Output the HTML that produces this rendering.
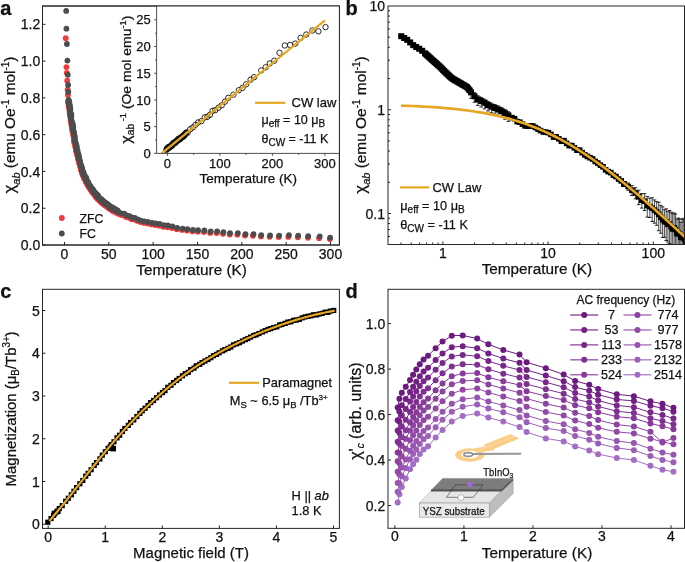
<!DOCTYPE html>
<html><head><meta charset="utf-8"><style>
html,body{margin:0;padding:0;background:#fff;}
svg{display:block;font-family:"Liberation Sans", sans-serif;will-change:transform;}
text{fill:#111;stroke:#111;stroke-width:0.25px;}
</style></head><body>
<svg width="685" height="562" viewBox="0 0 685 562">
<rect width="685" height="562" fill="#fff"/>
<g fill="#F03A3A">
<circle cx="65.7" cy="38.2" r="2.9"/>
<circle cx="66.4" cy="67.1" r="2.9"/>
<circle cx="66.8" cy="73.0" r="2.9"/>
<circle cx="67.2" cy="80.7" r="2.9"/>
<circle cx="67.6" cy="89.7" r="2.9"/>
<circle cx="67.9" cy="95.0" r="2.9"/>
<circle cx="68.16" cy="102.00" r="2.9"/>
<circle cx="68.19" cy="102.31" r="2.9"/>
<circle cx="68.53" cy="103.36" r="2.9"/>
<circle cx="68.86" cy="104.68" r="2.9"/>
<circle cx="68.65" cy="104.53" r="2.9"/>
<circle cx="68.73" cy="106.34" r="2.9"/>
<circle cx="69.12" cy="107.39" r="2.9"/>
<circle cx="69.39" cy="107.81" r="2.9"/>
<circle cx="69.34" cy="109.12" r="2.9"/>
<circle cx="69.68" cy="111.02" r="2.9"/>
<circle cx="69.70" cy="110.98" r="2.9"/>
<circle cx="69.75" cy="112.45" r="2.9"/>
<circle cx="70.01" cy="113.97" r="2.9"/>
<circle cx="69.95" cy="114.81" r="2.9"/>
<circle cx="70.62" cy="116.01" r="2.9"/>
<circle cx="70.31" cy="117.11" r="2.9"/>
<circle cx="70.77" cy="118.43" r="2.9"/>
<circle cx="70.72" cy="120.24" r="2.9"/>
<circle cx="70.74" cy="120.43" r="2.9"/>
<circle cx="71.33" cy="122.63" r="2.9"/>
<circle cx="71.32" cy="123.67" r="2.9"/>
<circle cx="71.76" cy="124.68" r="2.9"/>
<circle cx="71.64" cy="126.30" r="2.9"/>
<circle cx="72.15" cy="126.38" r="2.9"/>
<circle cx="72.42" cy="128.69" r="2.9"/>
<circle cx="72.47" cy="129.13" r="2.9"/>
<circle cx="72.39" cy="130.57" r="2.9"/>
<circle cx="72.59" cy="131.76" r="2.9"/>
<circle cx="73.23" cy="133.42" r="2.9"/>
<circle cx="73.39" cy="134.87" r="2.9"/>
<circle cx="73.46" cy="136.05" r="2.9"/>
<circle cx="73.90" cy="137.93" r="2.9"/>
<circle cx="73.97" cy="137.96" r="2.9"/>
<circle cx="74.06" cy="139.85" r="2.9"/>
<circle cx="74.26" cy="141.06" r="2.9"/>
<circle cx="74.36" cy="142.48" r="2.9"/>
<circle cx="74.61" cy="143.06" r="2.9"/>
<circle cx="75.18" cy="144.95" r="2.9"/>
<circle cx="75.22" cy="145.66" r="2.9"/>
<circle cx="75.52" cy="147.62" r="2.9"/>
<circle cx="75.86" cy="147.66" r="2.9"/>
<circle cx="76.10" cy="149.17" r="2.9"/>
<circle cx="75.95" cy="150.18" r="2.9"/>
<circle cx="76.38" cy="151.65" r="2.9"/>
<circle cx="76.61" cy="152.13" r="2.9"/>
<circle cx="77.00" cy="152.81" r="2.9"/>
<circle cx="77.22" cy="155.09" r="2.9"/>
<circle cx="77.28" cy="154.91" r="2.9"/>
<circle cx="77.87" cy="156.32" r="2.9"/>
<circle cx="77.85" cy="157.01" r="2.9"/>
<circle cx="78.41" cy="158.71" r="2.9"/>
<circle cx="78.20" cy="159.14" r="2.9"/>
<circle cx="78.60" cy="160.33" r="2.9"/>
<circle cx="78.97" cy="161.67" r="2.9"/>
<circle cx="79.28" cy="162.24" r="2.9"/>
<circle cx="79.47" cy="163.91" r="2.9"/>
<circle cx="79.62" cy="163.96" r="2.9"/>
<circle cx="79.98" cy="165.41" r="2.9"/>
<circle cx="80.59" cy="167.26" r="2.9"/>
<circle cx="80.55" cy="167.14" r="2.9"/>
<circle cx="80.97" cy="168.68" r="2.9"/>
<circle cx="81.25" cy="169.77" r="2.9"/>
<circle cx="81.25" cy="169.66" r="2.9"/>
<circle cx="81.63" cy="171.18" r="2.9"/>
<circle cx="81.80" cy="171.99" r="2.9"/>
<circle cx="81.99" cy="172.67" r="2.9"/>
<circle cx="82.80" cy="173.71" r="2.9"/>
<circle cx="82.44" cy="173.72" r="2.9"/>
<circle cx="82.90" cy="175.36" r="2.9"/>
<circle cx="83.30" cy="175.73" r="2.9"/>
<circle cx="83.71" cy="176.47" r="2.9"/>
<circle cx="84.05" cy="177.61" r="2.9"/>
<circle cx="84.10" cy="178.37" r="2.9"/>
<circle cx="84.49" cy="178.12" r="2.9"/>
<circle cx="85.06" cy="179.40" r="2.9"/>
<circle cx="85.45" cy="179.58" r="2.9"/>
<circle cx="85.39" cy="180.19" r="2.9"/>
<circle cx="85.87" cy="180.91" r="2.9"/>
<circle cx="85.90" cy="181.84" r="2.9"/>
<circle cx="86.18" cy="182.35" r="2.9"/>
<circle cx="86.67" cy="182.81" r="2.9"/>
<circle cx="87.17" cy="183.67" r="2.9"/>
<circle cx="87.37" cy="183.96" r="2.9"/>
<circle cx="87.59" cy="184.28" r="2.9"/>
<circle cx="88.09" cy="185.52" r="2.9"/>
<circle cx="88.25" cy="185.86" r="2.9"/>
<circle cx="88.35" cy="186.02" r="2.9"/>
<circle cx="88.90" cy="186.66" r="2.9"/>
<circle cx="89.11" cy="187.17" r="2.9"/>
<circle cx="89.41" cy="187.33" r="2.9"/>
<circle cx="89.65" cy="188.07" r="2.9"/>
<circle cx="90.09" cy="188.76" r="2.9"/>
<circle cx="90.37" cy="189.01" r="2.9"/>
<circle cx="90.98" cy="189.64" r="2.9"/>
<circle cx="91.21" cy="190.36" r="2.9"/>
<circle cx="91.54" cy="190.70" r="2.9"/>
<circle cx="91.67" cy="190.97" r="2.9"/>
<circle cx="92.01" cy="191.74" r="2.9"/>
<circle cx="92.58" cy="191.96" r="2.9"/>
<circle cx="92.50" cy="191.90" r="2.9"/>
<circle cx="92.90" cy="192.31" r="2.9"/>
<circle cx="93.26" cy="192.94" r="2.9"/>
<circle cx="93.76" cy="193.75" r="2.9"/>
<circle cx="93.93" cy="194.12" r="2.9"/>
<circle cx="94.38" cy="194.15" r="2.9"/>
<circle cx="94.97" cy="195.18" r="2.9"/>
<circle cx="95.19" cy="195.61" r="2.9"/>
<circle cx="95.22" cy="195.25" r="2.9"/>
<circle cx="95.74" cy="196.46" r="2.9"/>
<circle cx="96.25" cy="196.30" r="2.9"/>
<circle cx="96.37" cy="197.43" r="2.9"/>
<circle cx="96.77" cy="197.28" r="2.9"/>
<circle cx="97.14" cy="197.27" r="2.9"/>
<circle cx="97.62" cy="197.79" r="2.9"/>
<circle cx="97.74" cy="198.45" r="2.9"/>
<circle cx="97.73" cy="198.89" r="2.9"/>
<circle cx="98.19" cy="199.20" r="2.9"/>
<circle cx="98.85" cy="199.68" r="2.9"/>
<circle cx="99.31" cy="200.29" r="2.9"/>
<circle cx="99.41" cy="200.11" r="2.9"/>
<circle cx="99.62" cy="200.54" r="2.9"/>
<circle cx="100.05" cy="201.02" r="2.9"/>
<circle cx="100.40" cy="200.97" r="2.9"/>
<circle cx="101.00" cy="201.28" r="2.9"/>
<circle cx="100.90" cy="201.90" r="2.9"/>
<circle cx="101.44" cy="201.78" r="2.9"/>
<circle cx="102.12" cy="202.49" r="2.9"/>
<circle cx="102.46" cy="203.14" r="2.9"/>
<circle cx="102.75" cy="202.84" r="2.9"/>
<circle cx="102.60" cy="203.25" r="2.9"/>
<circle cx="103.40" cy="203.84" r="2.9"/>
<circle cx="103.59" cy="204.07" r="2.9"/>
<circle cx="104.41" cy="204.12" r="2.9"/>
<circle cx="104.24" cy="204.38" r="2.9"/>
<circle cx="104.68" cy="205.10" r="2.9"/>
<circle cx="105.13" cy="205.37" r="2.9"/>
<circle cx="105.62" cy="205.37" r="2.9"/>
<circle cx="105.89" cy="205.61" r="2.9"/>
<circle cx="106.25" cy="205.55" r="2.9"/>
<circle cx="106.25" cy="205.83" r="2.9"/>
<circle cx="106.97" cy="206.30" r="2.9"/>
<circle cx="107.19" cy="206.59" r="2.9"/>
<circle cx="107.57" cy="207.00" r="2.9"/>
<circle cx="108.11" cy="207.13" r="2.9"/>
<circle cx="108.20" cy="206.97" r="2.9"/>
<circle cx="108.57" cy="207.32" r="2.9"/>
<circle cx="108.90" cy="208.29" r="2.9"/>
<circle cx="109.68" cy="208.56" r="2.9"/>
<circle cx="109.69" cy="208.37" r="2.9"/>
<circle cx="110.23" cy="208.53" r="2.9"/>
<circle cx="110.69" cy="209.26" r="2.9"/>
<circle cx="110.67" cy="209.11" r="2.9"/>
<circle cx="111.41" cy="209.32" r="2.9"/>
<circle cx="111.76" cy="209.60" r="2.9"/>
<circle cx="111.75" cy="209.37" r="2.9"/>
<circle cx="112.38" cy="210.42" r="2.9"/>
<circle cx="112.48" cy="210.57" r="2.9"/>
<circle cx="113.19" cy="210.14" r="2.9"/>
<circle cx="113.40" cy="210.82" r="2.9"/>
<circle cx="113.79" cy="210.85" r="2.9"/>
<circle cx="113.95" cy="211.46" r="2.9"/>
<circle cx="114.49" cy="211.14" r="2.9"/>
<circle cx="115.18" cy="211.96" r="2.9"/>
<circle cx="115.52" cy="211.51" r="2.9"/>
<circle cx="116.05" cy="212.01" r="2.9"/>
<circle cx="116.32" cy="212.42" r="2.9"/>
<circle cx="116.38" cy="212.53" r="2.9"/>
<circle cx="116.91" cy="212.51" r="2.9"/>
<circle cx="117.19" cy="212.44" r="2.9"/>
<circle cx="118.39" cy="213.74" r="2.9"/>
<circle cx="120.70" cy="214.78" r="2.9"/>
<circle cx="123.49" cy="215.43" r="2.9"/>
<circle cx="126.06" cy="216.91" r="2.9"/>
<circle cx="128.88" cy="217.74" r="2.9"/>
<circle cx="131.60" cy="219.15" r="2.9"/>
<circle cx="134.37" cy="219.62" r="2.9"/>
<circle cx="137.45" cy="220.95" r="2.9"/>
<circle cx="140.61" cy="222.06" r="2.9"/>
<circle cx="143.99" cy="222.89" r="2.9"/>
<circle cx="147.52" cy="223.55" r="2.9"/>
<circle cx="151.45" cy="224.38" r="2.9"/>
<circle cx="155.15" cy="225.09" r="2.9"/>
<circle cx="159.06" cy="225.65" r="2.9"/>
<circle cx="163.25" cy="226.75" r="2.9"/>
<circle cx="167.49" cy="227.26" r="2.9"/>
<circle cx="172.05" cy="228.08" r="2.9"/>
<circle cx="176.79" cy="229.21" r="2.9"/>
<circle cx="182.00" cy="229.97" r="2.9"/>
<circle cx="186.93" cy="230.61" r="2.9"/>
<circle cx="192.40" cy="231.32" r="2.9"/>
<circle cx="197.79" cy="231.72" r="2.9"/>
<circle cx="203.89" cy="232.10" r="2.9"/>
<circle cx="210.10" cy="232.93" r="2.9"/>
<circle cx="216.53" cy="233.07" r="2.9"/>
<circle cx="222.97" cy="233.80" r="2.9"/>
<circle cx="229.77" cy="234.49" r="2.9"/>
<circle cx="237.31" cy="234.66" r="2.9"/>
<circle cx="244.93" cy="235.56" r="2.9"/>
<circle cx="252.93" cy="235.76" r="2.9"/>
<circle cx="260.90" cy="236.46" r="2.9"/>
<circle cx="269.62" cy="236.82" r="2.9"/>
<circle cx="278.69" cy="237.03" r="2.9"/>
<circle cx="288.29" cy="236.90" r="2.9"/>
<circle cx="297.81" cy="237.37" r="2.9"/>
<circle cx="307.93" cy="237.87" r="2.9"/>
<circle cx="319.06" cy="238.14" r="2.9"/>
<circle cx="329.82" cy="239.05" r="2.9"/>
</g>
<g fill="#4D4D4D">
<circle cx="66.2" cy="10.9" r="2.9"/>
<circle cx="66.4" cy="28.7" r="2.9"/>
<circle cx="66.9" cy="44.0" r="2.9"/>
<circle cx="67.4" cy="60.6" r="2.9"/>
<circle cx="67.8" cy="74.8" r="2.9"/>
<circle cx="68.1" cy="85.0" r="2.9"/>
<circle cx="68.3" cy="91.9" r="2.9"/>
<circle cx="68.6" cy="99.9" r="2.9"/>
<circle cx="68.52" cy="100.61" r="2.9"/>
<circle cx="68.55" cy="100.95" r="2.9"/>
<circle cx="69.02" cy="101.83" r="2.9"/>
<circle cx="69.50" cy="103.09" r="2.9"/>
<circle cx="69.05" cy="102.76" r="2.9"/>
<circle cx="69.02" cy="104.87" r="2.9"/>
<circle cx="69.59" cy="105.60" r="2.9"/>
<circle cx="70.08" cy="106.08" r="2.9"/>
<circle cx="69.79" cy="107.41" r="2.9"/>
<circle cx="70.24" cy="109.46" r="2.9"/>
<circle cx="70.25" cy="109.25" r="2.9"/>
<circle cx="70.15" cy="110.72" r="2.9"/>
<circle cx="70.42" cy="112.17" r="2.9"/>
<circle cx="70.28" cy="113.47" r="2.9"/>
<circle cx="71.35" cy="114.23" r="2.9"/>
<circle cx="70.57" cy="115.34" r="2.9"/>
<circle cx="71.37" cy="116.98" r="2.9"/>
<circle cx="70.98" cy="118.69" r="2.9"/>
<circle cx="70.99" cy="118.84" r="2.9"/>
<circle cx="71.90" cy="121.31" r="2.9"/>
<circle cx="71.70" cy="122.24" r="2.9"/>
<circle cx="72.45" cy="123.31" r="2.9"/>
<circle cx="71.89" cy="124.68" r="2.9"/>
<circle cx="72.89" cy="124.73" r="2.9"/>
<circle cx="73.07" cy="127.12" r="2.9"/>
<circle cx="73.11" cy="127.52" r="2.9"/>
<circle cx="72.65" cy="128.74" r="2.9"/>
<circle cx="72.90" cy="130.02" r="2.9"/>
<circle cx="73.96" cy="131.89" r="2.9"/>
<circle cx="74.05" cy="133.30" r="2.9"/>
<circle cx="74.03" cy="134.62" r="2.9"/>
<circle cx="74.61" cy="136.56" r="2.9"/>
<circle cx="74.63" cy="136.13" r="2.9"/>
<circle cx="74.49" cy="137.99" r="2.9"/>
<circle cx="74.78" cy="139.62" r="2.9"/>
<circle cx="74.63" cy="140.71" r="2.9"/>
<circle cx="75.05" cy="141.32" r="2.9"/>
<circle cx="75.82" cy="143.27" r="2.9"/>
<circle cx="75.79" cy="144.06" r="2.9"/>
<circle cx="76.06" cy="146.27" r="2.9"/>
<circle cx="76.58" cy="145.85" r="2.9"/>
<circle cx="76.77" cy="147.49" r="2.9"/>
<circle cx="76.25" cy="148.51" r="2.9"/>
<circle cx="76.89" cy="150.30" r="2.9"/>
<circle cx="77.05" cy="150.25" r="2.9"/>
<circle cx="77.68" cy="150.99" r="2.9"/>
<circle cx="77.71" cy="153.69" r="2.9"/>
<circle cx="77.79" cy="153.28" r="2.9"/>
<circle cx="78.52" cy="154.45" r="2.9"/>
<circle cx="78.39" cy="155.36" r="2.9"/>
<circle cx="79.16" cy="157.28" r="2.9"/>
<circle cx="78.47" cy="157.37" r="2.9"/>
<circle cx="79.07" cy="158.84" r="2.9"/>
<circle cx="79.38" cy="159.99" r="2.9"/>
<circle cx="79.99" cy="160.89" r="2.9"/>
<circle cx="79.92" cy="162.53" r="2.9"/>
<circle cx="80.04" cy="162.12" r="2.9"/>
<circle cx="80.49" cy="163.90" r="2.9"/>
<circle cx="81.29" cy="165.92" r="2.9"/>
<circle cx="81.18" cy="165.69" r="2.9"/>
<circle cx="81.57" cy="167.19" r="2.9"/>
<circle cx="81.88" cy="168.43" r="2.9"/>
<circle cx="81.68" cy="167.83" r="2.9"/>
<circle cx="82.00" cy="169.42" r="2.9"/>
<circle cx="82.23" cy="170.56" r="2.9"/>
<circle cx="82.27" cy="171.04" r="2.9"/>
<circle cx="83.46" cy="171.98" r="2.9"/>
<circle cx="82.72" cy="171.97" r="2.9"/>
<circle cx="83.19" cy="173.93" r="2.9"/>
<circle cx="83.64" cy="173.96" r="2.9"/>
<circle cx="84.37" cy="175.04" r="2.9"/>
<circle cx="84.59" cy="176.25" r="2.9"/>
<circle cx="84.38" cy="177.03" r="2.9"/>
<circle cx="85.02" cy="176.41" r="2.9"/>
<circle cx="85.73" cy="177.89" r="2.9"/>
<circle cx="86.19" cy="177.77" r="2.9"/>
<circle cx="85.93" cy="178.57" r="2.9"/>
<circle cx="86.45" cy="179.17" r="2.9"/>
<circle cx="86.17" cy="180.27" r="2.9"/>
<circle cx="86.61" cy="180.97" r="2.9"/>
<circle cx="87.15" cy="181.17" r="2.9"/>
<circle cx="87.74" cy="182.09" r="2.9"/>
<circle cx="88.10" cy="182.52" r="2.9"/>
<circle cx="88.09" cy="182.52" r="2.9"/>
<circle cx="88.64" cy="184.06" r="2.9"/>
<circle cx="88.87" cy="184.53" r="2.9"/>
<circle cx="88.71" cy="184.37" r="2.9"/>
<circle cx="89.36" cy="184.96" r="2.9"/>
<circle cx="89.54" cy="185.56" r="2.9"/>
<circle cx="89.93" cy="185.60" r="2.9"/>
<circle cx="89.97" cy="186.36" r="2.9"/>
<circle cx="90.41" cy="187.05" r="2.9"/>
<circle cx="90.96" cy="187.46" r="2.9"/>
<circle cx="91.73" cy="188.08" r="2.9"/>
<circle cx="91.73" cy="188.84" r="2.9"/>
<circle cx="92.15" cy="189.16" r="2.9"/>
<circle cx="92.22" cy="189.43" r="2.9"/>
<circle cx="92.43" cy="190.30" r="2.9"/>
<circle cx="93.13" cy="190.26" r="2.9"/>
<circle cx="92.87" cy="190.06" r="2.9"/>
<circle cx="93.32" cy="190.44" r="2.9"/>
<circle cx="93.59" cy="191.09" r="2.9"/>
<circle cx="94.15" cy="192.07" r="2.9"/>
<circle cx="94.47" cy="192.68" r="2.9"/>
<circle cx="94.95" cy="192.36" r="2.9"/>
<circle cx="95.66" cy="193.71" r="2.9"/>
<circle cx="95.69" cy="194.09" r="2.9"/>
<circle cx="95.73" cy="193.46" r="2.9"/>
<circle cx="96.31" cy="195.13" r="2.9"/>
<circle cx="96.89" cy="194.52" r="2.9"/>
<circle cx="96.68" cy="196.07" r="2.9"/>
<circle cx="97.48" cy="195.82" r="2.9"/>
<circle cx="97.77" cy="195.47" r="2.9"/>
<circle cx="98.27" cy="196.02" r="2.9"/>
<circle cx="98.07" cy="196.80" r="2.9"/>
<circle cx="97.98" cy="197.49" r="2.9"/>
<circle cx="98.52" cy="197.73" r="2.9"/>
<circle cx="99.39" cy="198.23" r="2.9"/>
<circle cx="99.86" cy="198.95" r="2.9"/>
<circle cx="99.85" cy="198.51" r="2.9"/>
<circle cx="100.04" cy="199.08" r="2.9"/>
<circle cx="100.45" cy="199.59" r="2.9"/>
<circle cx="100.69" cy="199.23" r="2.9"/>
<circle cx="101.46" cy="199.47" r="2.9"/>
<circle cx="101.25" cy="200.49" r="2.9"/>
<circle cx="101.87" cy="200.03" r="2.9"/>
<circle cx="102.79" cy="200.93" r="2.9"/>
<circle cx="103.03" cy="201.76" r="2.9"/>
<circle cx="103.36" cy="201.11" r="2.9"/>
<circle cx="102.86" cy="201.67" r="2.9"/>
<circle cx="104.00" cy="202.41" r="2.9"/>
<circle cx="103.93" cy="202.55" r="2.9"/>
<circle cx="105.13" cy="202.39" r="2.9"/>
<circle cx="104.63" cy="202.74" r="2.9"/>
<circle cx="105.21" cy="203.77" r="2.9"/>
<circle cx="105.68" cy="203.98" r="2.9"/>
<circle cx="106.19" cy="203.75" r="2.9"/>
<circle cx="106.29" cy="203.92" r="2.9"/>
<circle cx="106.88" cy="203.77" r="2.9"/>
<circle cx="106.57" cy="204.07" r="2.9"/>
<circle cx="107.55" cy="204.62" r="2.9"/>
<circle cx="107.54" cy="204.89" r="2.9"/>
<circle cx="107.86" cy="205.36" r="2.9"/>
<circle cx="108.76" cy="205.50" r="2.9"/>
<circle cx="108.68" cy="205.11" r="2.9"/>
<circle cx="108.96" cy="205.48" r="2.9"/>
<circle cx="109.17" cy="206.89" r="2.9"/>
<circle cx="110.29" cy="207.15" r="2.9"/>
<circle cx="110.01" cy="206.70" r="2.9"/>
<circle cx="110.94" cy="206.89" r="2.9"/>
<circle cx="111.40" cy="207.92" r="2.9"/>
<circle cx="110.93" cy="207.47" r="2.9"/>
<circle cx="111.95" cy="207.64" r="2.9"/>
<circle cx="112.19" cy="207.92" r="2.9"/>
<circle cx="112.12" cy="207.50" r="2.9"/>
<circle cx="113.00" cy="209.10" r="2.9"/>
<circle cx="112.75" cy="209.17" r="2.9"/>
<circle cx="113.71" cy="208.27" r="2.9"/>
<circle cx="113.68" cy="209.24" r="2.9"/>
<circle cx="114.09" cy="209.13" r="2.9"/>
<circle cx="114.34" cy="210.12" r="2.9"/>
<circle cx="114.98" cy="209.42" r="2.9"/>
<circle cx="115.90" cy="210.62" r="2.9"/>
<circle cx="116.13" cy="209.71" r="2.9"/>
<circle cx="116.75" cy="210.38" r="2.9"/>
<circle cx="116.96" cy="210.94" r="2.9"/>
<circle cx="116.96" cy="211.08" r="2.9"/>
<circle cx="117.57" cy="210.89" r="2.9"/>
<circle cx="117.69" cy="210.61" r="2.9"/>
<circle cx="118.83" cy="212.36" r="2.9"/>
<circle cx="121.06" cy="213.32" r="2.9"/>
<circle cx="124.14" cy="213.66" r="2.9"/>
<circle cx="126.70" cy="215.40" r="2.9"/>
<circle cx="129.62" cy="216.08" r="2.9"/>
<circle cx="132.23" cy="217.74" r="2.9"/>
<circle cx="134.81" cy="217.87" r="2.9"/>
<circle cx="137.88" cy="219.44" r="2.9"/>
<circle cx="140.99" cy="220.66" r="2.9"/>
<circle cx="144.39" cy="221.44" r="2.9"/>
<circle cx="147.93" cy="221.95" r="2.9"/>
<circle cx="152.14" cy="222.78" r="2.9"/>
<circle cx="155.71" cy="223.40" r="2.9"/>
<circle cx="159.55" cy="223.80" r="2.9"/>
<circle cx="163.76" cy="225.12" r="2.9"/>
<circle cx="167.89" cy="225.48" r="2.9"/>
<circle cx="172.47" cy="226.37" r="2.9"/>
<circle cx="177.23" cy="227.79" r="2.9"/>
<circle cx="182.70" cy="228.61" r="2.9"/>
<circle cx="187.39" cy="229.23" r="2.9"/>
<circle cx="192.94" cy="230.00" r="2.9"/>
<circle cx="198.10" cy="230.27" r="2.9"/>
<circle cx="204.43" cy="230.51" r="2.9"/>
<circle cx="210.73" cy="231.52" r="2.9"/>
<circle cx="217.19" cy="231.38" r="2.9"/>
<circle cx="223.41" cy="232.25" r="2.9"/>
<circle cx="230.04" cy="233.07" r="2.9"/>
<circle cx="237.86" cy="233.03" r="2.9"/>
<circle cx="245.50" cy="234.22" r="2.9"/>
<circle cx="253.59" cy="234.25" r="2.9"/>
<circle cx="261.26" cy="235.12" r="2.9"/>
<circle cx="270.07" cy="235.45" r="2.9"/>
<circle cx="279.19" cy="235.53" r="2.9"/>
<circle cx="288.98" cy="235.05" r="2.9"/>
<circle cx="298.20" cy="235.59" r="2.9"/>
<circle cx="308.20" cy="236.18" r="2.9"/>
<circle cx="319.76" cy="236.40" r="2.9"/>
<circle cx="330.12" cy="237.70" r="2.9"/>
</g>
<rect x="42.50" y="6.00" width="296.90" height="239.00" fill="none" stroke="#262626" stroke-width="1"/>
<line x1="64.50" y1="245.00" x2="64.50" y2="242.00" stroke="#262626" stroke-width="1" />
<text x="64.50" y="258.50" font-size="14" text-anchor="middle" >0</text>
<line x1="108.84" y1="245.00" x2="108.84" y2="242.00" stroke="#262626" stroke-width="1" />
<text x="108.84" y="258.50" font-size="14" text-anchor="middle" >50</text>
<line x1="153.17" y1="245.00" x2="153.17" y2="242.00" stroke="#262626" stroke-width="1" />
<text x="153.17" y="258.50" font-size="14" text-anchor="middle" >100</text>
<line x1="197.50" y1="245.00" x2="197.50" y2="242.00" stroke="#262626" stroke-width="1" />
<text x="197.50" y="258.50" font-size="14" text-anchor="middle" >150</text>
<line x1="241.84" y1="245.00" x2="241.84" y2="242.00" stroke="#262626" stroke-width="1" />
<text x="241.84" y="258.50" font-size="14" text-anchor="middle" >200</text>
<line x1="286.18" y1="245.00" x2="286.18" y2="242.00" stroke="#262626" stroke-width="1" />
<text x="286.18" y="258.50" font-size="14" text-anchor="middle" >250</text>
<line x1="330.51" y1="245.00" x2="330.51" y2="242.00" stroke="#262626" stroke-width="1" />
<text x="330.51" y="258.50" font-size="14" text-anchor="middle" >300</text>
<line x1="42.50" y1="245.00" x2="45.50" y2="245.00" stroke="#262626" stroke-width="1" />
<text x="40.30" y="250.10" font-size="14" text-anchor="end" >0.0</text>
<line x1="42.50" y1="208.22" x2="45.50" y2="208.22" stroke="#262626" stroke-width="1" />
<text x="40.30" y="213.32" font-size="14" text-anchor="end" >0.2</text>
<line x1="42.50" y1="171.44" x2="45.50" y2="171.44" stroke="#262626" stroke-width="1" />
<text x="40.30" y="176.54" font-size="14" text-anchor="end" >0.4</text>
<line x1="42.50" y1="134.66" x2="45.50" y2="134.66" stroke="#262626" stroke-width="1" />
<text x="40.30" y="139.76" font-size="14" text-anchor="end" >0.6</text>
<line x1="42.50" y1="97.88" x2="45.50" y2="97.88" stroke="#262626" stroke-width="1" />
<text x="40.30" y="102.98" font-size="14" text-anchor="end" >0.8</text>
<line x1="42.50" y1="61.10" x2="45.50" y2="61.10" stroke="#262626" stroke-width="1" />
<text x="40.30" y="66.20" font-size="14" text-anchor="end" >1.0</text>
<line x1="42.50" y1="24.32" x2="45.50" y2="24.32" stroke="#262626" stroke-width="1" />
<text x="40.30" y="29.42" font-size="14" text-anchor="end" >1.2</text>
<text x="191.60" y="274.60" font-size="15.3" text-anchor="middle" >Temperature (K)</text>
<text transform="translate(15.4,125) rotate(-90)" font-size="15.5" text-anchor="middle" textLength="137" lengthAdjust="spacingAndGlyphs"><tspan font-size="17">&#967;</tspan><tspan font-size="11" font-style="italic" dy="4.2">ab</tspan><tspan dy="-4.2"> (emu Oe</tspan><tspan font-size="10" dy="-6">-1</tspan><tspan dy="6"> mol</tspan><tspan font-size="10" dy="-6">-1</tspan><tspan dy="6">)</tspan></text>
<circle cx="61.8" cy="218" r="2.9" fill="#F03A3A"/>
<circle cx="61.8" cy="233.5" r="2.9" fill="#4D4D4D"/>
<text x="79.60" y="222.50" font-size="12.3" text-anchor="start" >ZFC</text>
<text x="79.60" y="238.10" font-size="12.3" text-anchor="start" >FC</text>
<rect x="156.6" y="6.0" width="182.79999999999998" height="147.4" fill="white"/>
<g fill="none" stroke="#111" stroke-width="0.9">
<circle cx="325.50" cy="27.10" r="2.7"/>
<circle cx="318.40" cy="31.30" r="2.7"/>
<circle cx="312.40" cy="30.50" r="2.7"/>
<circle cx="306.30" cy="34.50" r="2.7"/>
<circle cx="300.60" cy="37.90" r="2.7"/>
<circle cx="295.30" cy="43.60" r="2.7"/>
<circle cx="290.10" cy="45.00" r="2.7"/>
<circle cx="284.80" cy="45.50" r="2.7"/>
<circle cx="279.50" cy="52.80" r="2.7"/>
<circle cx="274.30" cy="60.70" r="2.7"/>
<circle cx="269.80" cy="63.40" r="2.7"/>
<circle cx="265.60" cy="67.30" r="2.7"/>
<circle cx="261.20" cy="70.40" r="2.7"/>
<circle cx="254.10" cy="77.20" r="2.7"/>
<circle cx="250.60" cy="79.68" r="2.7"/>
<circle cx="246.20" cy="84.28" r="2.7"/>
<circle cx="242.50" cy="87.90" r="2.7"/>
<circle cx="238.80" cy="90.21" r="2.7"/>
<circle cx="233.50" cy="94.68" r="2.7"/>
<circle cx="228.30" cy="97.82" r="2.7"/>
<circle cx="225.00" cy="101.60" r="2.7"/>
<circle cx="221.70" cy="105.34" r="2.7"/>
<circle cx="218.50" cy="107.73" r="2.7"/>
<circle cx="215.20" cy="110.14" r="2.7"/>
<circle cx="212.50" cy="110.91" r="2.7"/>
<circle cx="209.90" cy="114.84" r="2.7"/>
<circle cx="207.30" cy="116.87" r="2.7"/>
<circle cx="204.70" cy="117.40" r="2.7"/>
<circle cx="201.40" cy="121.16" r="2.7"/>
<circle cx="198.10" cy="122.44" r="2.7"/>
<circle cx="195.50" cy="124.78" r="2.7"/>
<circle cx="192.80" cy="127.44" r="2.7"/>
<circle cx="190.20" cy="129.19" r="2.7"/>
<circle cx="187.60" cy="132.69" r="2.7"/>
<circle cx="166.40" cy="150.02" r="2.7"/>
<circle cx="166.75" cy="148.98" r="2.7"/>
<circle cx="167.10" cy="148.65" r="2.7"/>
<circle cx="167.45" cy="148.03" r="2.7"/>
<circle cx="167.80" cy="147.70" r="2.7"/>
<circle cx="168.15" cy="148.43" r="2.7"/>
<circle cx="168.50" cy="147.96" r="2.7"/>
<circle cx="168.85" cy="146.80" r="2.7"/>
<circle cx="169.20" cy="147.20" r="2.7"/>
<circle cx="169.55" cy="146.79" r="2.7"/>
<circle cx="169.90" cy="147.22" r="2.7"/>
<circle cx="170.25" cy="146.72" r="2.7"/>
<circle cx="170.60" cy="146.25" r="2.7"/>
<circle cx="170.95" cy="145.89" r="2.7"/>
<circle cx="171.30" cy="146.24" r="2.7"/>
<circle cx="171.65" cy="146.01" r="2.7"/>
<circle cx="172.00" cy="144.69" r="2.7"/>
<circle cx="172.35" cy="144.25" r="2.7"/>
<circle cx="172.70" cy="144.85" r="2.7"/>
<circle cx="173.05" cy="143.40" r="2.7"/>
<circle cx="173.40" cy="143.59" r="2.7"/>
<circle cx="173.75" cy="142.84" r="2.7"/>
<circle cx="174.10" cy="142.95" r="2.7"/>
<circle cx="174.45" cy="142.27" r="2.7"/>
<circle cx="174.80" cy="142.33" r="2.7"/>
<circle cx="175.15" cy="142.85" r="2.7"/>
<circle cx="175.50" cy="142.75" r="2.7"/>
<circle cx="175.85" cy="142.28" r="2.7"/>
<circle cx="176.20" cy="141.63" r="2.7"/>
<circle cx="176.55" cy="141.43" r="2.7"/>
<circle cx="176.90" cy="140.74" r="2.7"/>
<circle cx="177.25" cy="140.14" r="2.7"/>
<circle cx="177.60" cy="140.29" r="2.7"/>
<circle cx="177.95" cy="140.48" r="2.7"/>
<circle cx="178.30" cy="139.12" r="2.7"/>
<circle cx="178.65" cy="138.77" r="2.7"/>
<circle cx="179.00" cy="139.68" r="2.7"/>
<circle cx="179.35" cy="138.64" r="2.7"/>
<circle cx="179.70" cy="139.00" r="2.7"/>
<circle cx="180.05" cy="138.77" r="2.7"/>
<circle cx="180.40" cy="138.80" r="2.7"/>
<circle cx="180.75" cy="137.66" r="2.7"/>
<circle cx="181.10" cy="137.31" r="2.7"/>
<circle cx="181.45" cy="137.74" r="2.7"/>
<circle cx="181.80" cy="137.39" r="2.7"/>
<circle cx="182.15" cy="136.93" r="2.7"/>
<circle cx="182.50" cy="136.90" r="2.7"/>
<circle cx="182.85" cy="136.34" r="2.7"/>
<circle cx="183.20" cy="136.56" r="2.7"/>
<circle cx="183.55" cy="135.28" r="2.7"/>
<circle cx="183.90" cy="135.64" r="2.7"/>
<circle cx="184.25" cy="135.69" r="2.7"/>
<circle cx="184.60" cy="134.42" r="2.7"/>
<circle cx="184.95" cy="134.58" r="2.7"/>
<circle cx="185.30" cy="133.90" r="2.7"/>
<circle cx="185.65" cy="133.77" r="2.7"/>
<circle cx="186.00" cy="132.87" r="2.7"/>
<circle cx="186.35" cy="132.49" r="2.7"/>
</g>
<line x1="161.62" y1="153.40" x2="324.90" y2="20.42" stroke="#E6A723" stroke-width="2.2" />
<line x1="156.60" y1="6.00" x2="156.60" y2="153.40" stroke="#3C3C3C" stroke-width="0.9" />
<line x1="156.60" y1="153.40" x2="339.40" y2="153.40" stroke="#3C3C3C" stroke-width="0.9" />
<rect x="42.50" y="6.00" width="296.90" height="239.00" fill="none" stroke="#262626" stroke-width="1"/>
<line x1="167.40" y1="153.40" x2="167.40" y2="155.90" stroke="#3C3C3C" stroke-width="0.9" />
<text x="167.40" y="167.80" font-size="13" text-anchor="middle" >0</text>
<line x1="219.90" y1="153.40" x2="219.90" y2="155.90" stroke="#3C3C3C" stroke-width="0.9" />
<text x="219.90" y="167.80" font-size="13" text-anchor="middle" >100</text>
<line x1="272.40" y1="153.40" x2="272.40" y2="155.90" stroke="#3C3C3C" stroke-width="0.9" />
<text x="272.40" y="167.80" font-size="13" text-anchor="middle" >200</text>
<line x1="324.90" y1="153.40" x2="324.90" y2="155.90" stroke="#3C3C3C" stroke-width="0.9" />
<text x="324.90" y="167.80" font-size="13" text-anchor="middle" >300</text>
<line x1="193.65" y1="153.40" x2="193.65" y2="154.90" stroke="#3C3C3C" stroke-width="0.9" />
<line x1="246.15" y1="153.40" x2="246.15" y2="154.90" stroke="#3C3C3C" stroke-width="0.9" />
<line x1="298.65" y1="153.40" x2="298.65" y2="154.90" stroke="#3C3C3C" stroke-width="0.9" />
<line x1="156.60" y1="153.40" x2="154.10" y2="153.40" stroke="#3C3C3C" stroke-width="0.9" />
<text x="150.80" y="158.10" font-size="13" text-anchor="end" >0</text>
<line x1="156.60" y1="126.68" x2="154.10" y2="126.68" stroke="#3C3C3C" stroke-width="0.9" />
<text x="150.80" y="131.38" font-size="13" text-anchor="end" >5</text>
<line x1="156.60" y1="99.95" x2="154.10" y2="99.95" stroke="#3C3C3C" stroke-width="0.9" />
<text x="150.80" y="104.65" font-size="13" text-anchor="end" >10</text>
<line x1="156.60" y1="73.23" x2="154.10" y2="73.23" stroke="#3C3C3C" stroke-width="0.9" />
<text x="150.80" y="77.93" font-size="13" text-anchor="end" >15</text>
<line x1="156.60" y1="46.50" x2="154.10" y2="46.50" stroke="#3C3C3C" stroke-width="0.9" />
<text x="150.80" y="51.20" font-size="13" text-anchor="end" >20</text>
<line x1="156.60" y1="19.78" x2="154.10" y2="19.78" stroke="#3C3C3C" stroke-width="0.9" />
<text x="150.80" y="24.48" font-size="13" text-anchor="end" >25</text>
<line x1="156.60" y1="140.04" x2="155.10" y2="140.04" stroke="#3C3C3C" stroke-width="0.9" />
<line x1="156.60" y1="113.31" x2="155.10" y2="113.31" stroke="#3C3C3C" stroke-width="0.9" />
<line x1="156.60" y1="86.59" x2="155.10" y2="86.59" stroke="#3C3C3C" stroke-width="0.9" />
<line x1="156.60" y1="59.86" x2="155.10" y2="59.86" stroke="#3C3C3C" stroke-width="0.9" />
<line x1="156.60" y1="33.14" x2="155.10" y2="33.14" stroke="#3C3C3C" stroke-width="0.9" />
<text x="248.20" y="182.50" font-size="13.5" text-anchor="middle" >Temperature (K)</text>
<text transform="translate(130.7,79.7) rotate(-90)" font-size="13.5" text-anchor="middle" textLength="128" lengthAdjust="spacingAndGlyphs"><tspan font-size="15.5">&#967;</tspan><tspan font-size="10" dy="3.5">ab</tspan><tspan font-size="9" dy="-8.5"> -1</tspan><tspan dy="5"> (Oe mol emu</tspan><tspan font-size="9" dy="-5">-1</tspan><tspan dy="5">)</tspan></text>
<line x1="255.10" y1="102.80" x2="285.40" y2="102.80" stroke="#E6A723" stroke-width="2.2" />
<text x="291.60" y="107.30" font-size="13" text-anchor="start" >CW law</text>
<text x="261.5" y="123.8" font-size="12.5">&#956;<tspan font-size="10" dy="3">eff</tspan><tspan dy="-3"> = 10 &#956;</tspan><tspan font-size="10" dy="3">B</tspan></text>
<text x="261.5" y="143.4" font-size="12.5">&#952;<tspan font-size="10" dy="3">CW</tspan><tspan dy="-3"> = -11 K</tspan></text>
<defs><clipPath id="cb"><rect x="388.0" y="6.0" width="296.5" height="238.5"/></clipPath></defs>
<g clip-path="url(#cb)">
<g stroke="#5A5A5A" stroke-width="1.1">
<line x1="471.00" y1="88.70" x2="471.00" y2="98.30"/>
<line x1="474.40" y1="92.66" x2="474.40" y2="102.26"/>
<line x1="477.80" y1="95.74" x2="477.80" y2="105.34"/>
<line x1="481.20" y1="97.42" x2="481.20" y2="107.02"/>
<line x1="484.60" y1="99.21" x2="484.60" y2="108.81"/>
<line x1="488.00" y1="101.38" x2="488.00" y2="110.98"/>
<line x1="491.40" y1="103.12" x2="491.40" y2="112.72"/>
<line x1="494.80" y1="104.47" x2="494.80" y2="114.07"/>
<line x1="498.20" y1="105.94" x2="498.20" y2="115.54"/>
<line x1="501.60" y1="107.61" x2="501.60" y2="117.21"/>
<line x1="505.00" y1="109.60" x2="505.00" y2="119.20"/>
<line x1="508.40" y1="111.77" x2="508.40" y2="121.37"/>
<line x1="623.80" y1="181.44" x2="623.80" y2="186.14"/>
<line x1="624.00" y1="181.63" x2="624.00" y2="186.58"/>
<line x1="628.14" y1="182.97" x2="628.14" y2="190.27"/>
<line x1="631.94" y1="185.68" x2="631.94" y2="195.43"/>
<line x1="635.45" y1="187.75" x2="635.45" y2="198.83"/>
<line x1="638.71" y1="190.19" x2="638.71" y2="204.60"/>
<line x1="641.75" y1="193.56" x2="641.75" y2="208.07"/>
<line x1="644.60" y1="193.71" x2="644.60" y2="210.44"/>
<line x1="647.28" y1="196.45" x2="647.28" y2="217.14"/>
<line x1="649.82" y1="198.10" x2="649.82" y2="217.50"/>
<line x1="652.22" y1="197.80" x2="652.22" y2="221.45"/>
<line x1="654.50" y1="199.93" x2="654.50" y2="223.15"/>
<line x1="656.67" y1="201.67" x2="656.67" y2="225.29"/>
<line x1="658.75" y1="202.31" x2="658.75" y2="230.74"/>
<line x1="660.73" y1="205.32" x2="660.73" y2="233.22"/>
<line x1="662.63" y1="206.86" x2="662.63" y2="237.44"/>
<line x1="664.46" y1="209.81" x2="664.46" y2="237.34"/>
<line x1="666.21" y1="208.83" x2="666.21" y2="240.52"/>
<line x1="667.90" y1="211.65" x2="667.90" y2="242.03"/>
<line x1="669.53" y1="210.53" x2="669.53" y2="243.58"/>
<line x1="671.11" y1="212.21" x2="671.11" y2="248.34"/>
<line x1="672.63" y1="213.66" x2="672.63" y2="252.31"/>
<line x1="674.10" y1="212.95" x2="674.10" y2="250.06"/>
<line x1="675.53" y1="214.02" x2="675.53" y2="253.50"/>
<line x1="676.91" y1="219.17" x2="676.91" y2="255.14"/>
<line x1="678.25" y1="218.12" x2="678.25" y2="255.01"/>
<line x1="679.56" y1="218.76" x2="679.56" y2="256.88"/>
<line x1="680.82" y1="222.18" x2="680.82" y2="259.76"/>
<line x1="682.06" y1="219.58" x2="682.06" y2="268.26"/>
<line x1="683.26" y1="218.35" x2="683.26" y2="266.94"/>
<line x1="684.43" y1="222.02" x2="684.43" y2="266.52"/>
<line x1="685.57" y1="225.32" x2="685.57" y2="267.52"/>
</g>
<g stroke="#111" stroke-width="0.9">
<line x1="469.20" y1="88.70" x2="472.80" y2="88.70"/><line x1="469.20" y1="98.30" x2="472.80" y2="98.30"/>
<line x1="472.60" y1="92.66" x2="476.20" y2="92.66"/><line x1="472.60" y1="102.26" x2="476.20" y2="102.26"/>
<line x1="476.00" y1="95.74" x2="479.60" y2="95.74"/><line x1="476.00" y1="105.34" x2="479.60" y2="105.34"/>
<line x1="479.40" y1="97.42" x2="483.00" y2="97.42"/><line x1="479.40" y1="107.02" x2="483.00" y2="107.02"/>
<line x1="482.80" y1="99.21" x2="486.40" y2="99.21"/><line x1="482.80" y1="108.81" x2="486.40" y2="108.81"/>
<line x1="486.20" y1="101.38" x2="489.80" y2="101.38"/><line x1="486.20" y1="110.98" x2="489.80" y2="110.98"/>
<line x1="489.60" y1="103.12" x2="493.20" y2="103.12"/><line x1="489.60" y1="112.72" x2="493.20" y2="112.72"/>
<line x1="493.00" y1="104.47" x2="496.60" y2="104.47"/><line x1="493.00" y1="114.07" x2="496.60" y2="114.07"/>
<line x1="496.40" y1="105.94" x2="500.00" y2="105.94"/><line x1="496.40" y1="115.54" x2="500.00" y2="115.54"/>
<line x1="499.80" y1="107.61" x2="503.40" y2="107.61"/><line x1="499.80" y1="117.21" x2="503.40" y2="117.21"/>
<line x1="503.20" y1="109.60" x2="506.80" y2="109.60"/><line x1="503.20" y1="119.20" x2="506.80" y2="119.20"/>
<line x1="506.60" y1="111.77" x2="510.20" y2="111.77"/><line x1="506.60" y1="121.37" x2="510.20" y2="121.37"/>
<line x1="622.00" y1="181.44" x2="625.60" y2="181.44"/><line x1="622.00" y1="186.14" x2="625.60" y2="186.14"/>
<line x1="622.20" y1="181.63" x2="625.80" y2="181.63"/><line x1="622.20" y1="186.58" x2="625.80" y2="186.58"/>
<line x1="626.34" y1="182.97" x2="629.94" y2="182.97"/><line x1="626.34" y1="190.27" x2="629.94" y2="190.27"/>
<line x1="630.14" y1="185.68" x2="633.74" y2="185.68"/><line x1="630.14" y1="195.43" x2="633.74" y2="195.43"/>
<line x1="633.65" y1="187.75" x2="637.25" y2="187.75"/><line x1="633.65" y1="198.83" x2="637.25" y2="198.83"/>
<line x1="636.91" y1="190.19" x2="640.51" y2="190.19"/><line x1="636.91" y1="204.60" x2="640.51" y2="204.60"/>
<line x1="639.95" y1="193.56" x2="643.55" y2="193.56"/><line x1="639.95" y1="208.07" x2="643.55" y2="208.07"/>
<line x1="642.80" y1="193.71" x2="646.40" y2="193.71"/><line x1="642.80" y1="210.44" x2="646.40" y2="210.44"/>
<line x1="645.48" y1="196.45" x2="649.08" y2="196.45"/><line x1="645.48" y1="217.14" x2="649.08" y2="217.14"/>
<line x1="648.02" y1="198.10" x2="651.62" y2="198.10"/><line x1="648.02" y1="217.50" x2="651.62" y2="217.50"/>
<line x1="650.42" y1="197.80" x2="654.02" y2="197.80"/><line x1="650.42" y1="221.45" x2="654.02" y2="221.45"/>
<line x1="652.70" y1="199.93" x2="656.30" y2="199.93"/><line x1="652.70" y1="223.15" x2="656.30" y2="223.15"/>
<line x1="654.87" y1="201.67" x2="658.47" y2="201.67"/><line x1="654.87" y1="225.29" x2="658.47" y2="225.29"/>
<line x1="656.95" y1="202.31" x2="660.55" y2="202.31"/><line x1="656.95" y1="230.74" x2="660.55" y2="230.74"/>
<line x1="658.93" y1="205.32" x2="662.53" y2="205.32"/><line x1="658.93" y1="233.22" x2="662.53" y2="233.22"/>
<line x1="660.83" y1="206.86" x2="664.43" y2="206.86"/><line x1="660.83" y1="237.44" x2="664.43" y2="237.44"/>
<line x1="662.66" y1="209.81" x2="666.26" y2="209.81"/><line x1="662.66" y1="237.34" x2="666.26" y2="237.34"/>
<line x1="664.41" y1="208.83" x2="668.01" y2="208.83"/><line x1="664.41" y1="240.52" x2="668.01" y2="240.52"/>
<line x1="666.10" y1="211.65" x2="669.70" y2="211.65"/><line x1="666.10" y1="242.03" x2="669.70" y2="242.03"/>
<line x1="667.73" y1="210.53" x2="671.33" y2="210.53"/><line x1="667.73" y1="243.58" x2="671.33" y2="243.58"/>
<line x1="669.31" y1="212.21" x2="672.91" y2="212.21"/><line x1="669.31" y1="248.34" x2="672.91" y2="248.34"/>
<line x1="670.83" y1="213.66" x2="674.43" y2="213.66"/><line x1="670.83" y1="252.31" x2="674.43" y2="252.31"/>
<line x1="672.30" y1="212.95" x2="675.90" y2="212.95"/><line x1="672.30" y1="250.06" x2="675.90" y2="250.06"/>
<line x1="673.73" y1="214.02" x2="677.33" y2="214.02"/><line x1="673.73" y1="253.50" x2="677.33" y2="253.50"/>
<line x1="675.11" y1="219.17" x2="678.71" y2="219.17"/><line x1="675.11" y1="255.14" x2="678.71" y2="255.14"/>
<line x1="676.45" y1="218.12" x2="680.05" y2="218.12"/><line x1="676.45" y1="255.01" x2="680.05" y2="255.01"/>
<line x1="677.76" y1="218.76" x2="681.36" y2="218.76"/><line x1="677.76" y1="256.88" x2="681.36" y2="256.88"/>
<line x1="679.02" y1="222.18" x2="682.62" y2="222.18"/><line x1="679.02" y1="259.76" x2="682.62" y2="259.76"/>
<line x1="680.26" y1="219.58" x2="683.86" y2="219.58"/><line x1="680.26" y1="268.26" x2="683.86" y2="268.26"/>
<line x1="681.46" y1="218.35" x2="685.06" y2="218.35"/><line x1="681.46" y1="266.94" x2="685.06" y2="266.94"/>
<line x1="682.63" y1="222.02" x2="686.23" y2="222.02"/><line x1="682.63" y1="266.52" x2="686.23" y2="266.52"/>
<line x1="683.77" y1="225.32" x2="687.37" y2="225.32"/><line x1="683.77" y1="267.52" x2="687.37" y2="267.52"/>
</g>
<g fill="#000">
<rect x="398.20" y="33.20" width="6.0" height="6.0"/>
<rect x="401.20" y="35.01" width="6.0" height="6.0"/>
<rect x="404.20" y="36.82" width="6.0" height="6.0"/>
<rect x="407.20" y="39.44" width="6.0" height="6.0"/>
<rect x="410.20" y="42.15" width="6.0" height="6.0"/>
<rect x="413.20" y="44.03" width="6.0" height="6.0"/>
<rect x="416.20" y="45.75" width="6.0" height="6.0"/>
<rect x="419.20" y="47.80" width="6.0" height="6.0"/>
<rect x="422.00" y="50.33" width="6.0" height="6.0"/>
<rect x="423.20" y="51.42" width="6.0" height="6.0"/>
<rect x="424.40" y="52.50" width="6.0" height="6.0"/>
<rect x="425.60" y="53.58" width="6.0" height="6.0"/>
<rect x="426.80" y="54.67" width="6.0" height="6.0"/>
<rect x="428.00" y="55.75" width="6.0" height="6.0"/>
<rect x="429.20" y="56.84" width="6.0" height="6.0"/>
<rect x="430.40" y="57.92" width="6.0" height="6.0"/>
<rect x="431.60" y="58.99" width="6.0" height="6.0"/>
<rect x="432.80" y="60.06" width="6.0" height="6.0"/>
<rect x="434.00" y="61.12" width="6.0" height="6.0"/>
<rect x="435.20" y="62.19" width="6.0" height="6.0"/>
<rect x="436.40" y="63.26" width="6.0" height="6.0"/>
<rect x="437.60" y="64.41" width="6.0" height="6.0"/>
<rect x="438.80" y="65.63" width="6.0" height="6.0"/>
<rect x="440.00" y="66.85" width="6.0" height="6.0"/>
<rect x="441.20" y="68.07" width="6.0" height="6.0"/>
<rect x="442.40" y="69.29" width="6.0" height="6.0"/>
<rect x="443.60" y="70.45" width="6.0" height="6.0"/>
<rect x="444.80" y="71.54" width="6.0" height="6.0"/>
<rect x="446.00" y="72.62" width="6.0" height="6.0"/>
<rect x="447.20" y="73.70" width="6.0" height="6.0"/>
<rect x="448.40" y="74.79" width="6.0" height="6.0"/>
<rect x="449.60" y="75.77" width="6.0" height="6.0"/>
<rect x="450.80" y="76.46" width="6.0" height="6.0"/>
<rect x="452.00" y="77.15" width="6.0" height="6.0"/>
<rect x="453.20" y="77.84" width="6.0" height="6.0"/>
<rect x="454.40" y="78.52" width="6.0" height="6.0"/>
<rect x="455.60" y="79.21" width="6.0" height="6.0"/>
<rect x="456.80" y="79.90" width="6.0" height="6.0"/>
<rect x="458.00" y="80.60" width="6.0" height="6.0"/>
<rect x="459.20" y="81.31" width="6.0" height="6.0"/>
<rect x="460.40" y="82.01" width="6.0" height="6.0"/>
<rect x="461.60" y="82.72" width="6.0" height="6.0"/>
<rect x="462.80" y="83.42" width="6.0" height="6.0"/>
<rect x="464.00" y="84.12" width="6.0" height="6.0"/>
<rect x="465.20" y="85.52" width="6.0" height="6.0"/>
<rect x="466.40" y="87.14" width="6.0" height="6.0"/>
<rect x="468.00" y="89.30" width="6.0" height="6.0"/>
<rect x="471.40" y="93.26" width="6.0" height="6.0"/>
<rect x="474.80" y="96.34" width="6.0" height="6.0"/>
<rect x="478.20" y="98.02" width="6.0" height="6.0"/>
<rect x="481.60" y="99.81" width="6.0" height="6.0"/>
<rect x="485.00" y="101.98" width="6.0" height="6.0"/>
<rect x="488.40" y="103.72" width="6.0" height="6.0"/>
<rect x="491.80" y="105.07" width="6.0" height="6.0"/>
<rect x="495.20" y="106.54" width="6.0" height="6.0"/>
<rect x="498.60" y="108.21" width="6.0" height="6.0"/>
<rect x="502.00" y="110.20" width="6.0" height="6.0"/>
<rect x="505.40" y="112.37" width="6.0" height="6.0"/>
<rect x="509.20" y="114.83" width="5.6" height="5.6"/>
<rect x="511.80" y="115.92" width="5.6" height="5.6"/>
<rect x="514.40" y="118.82" width="5.6" height="5.6"/>
<rect x="517.00" y="119.36" width="5.6" height="5.6"/>
<rect x="519.60" y="121.28" width="5.6" height="5.6"/>
<rect x="522.20" y="123.07" width="5.6" height="5.6"/>
<rect x="524.80" y="123.32" width="5.6" height="5.6"/>
<rect x="527.40" y="123.17" width="5.6" height="5.6"/>
<rect x="530.00" y="123.22" width="5.6" height="5.6"/>
<rect x="532.60" y="124.68" width="5.6" height="5.6"/>
<rect x="535.20" y="126.26" width="5.6" height="5.6"/>
<rect x="537.80" y="127.75" width="5.6" height="5.6"/>
<rect x="540.40" y="129.16" width="5.6" height="5.6"/>
<rect x="543.00" y="129.40" width="5.6" height="5.6"/>
<rect x="545.60" y="129.91" width="5.6" height="5.6"/>
<rect x="548.20" y="131.64" width="5.6" height="5.6"/>
<rect x="550.80" y="134.29" width="5.6" height="5.6"/>
<rect x="553.40" y="134.08" width="5.6" height="5.6"/>
<rect x="556.00" y="135.95" width="5.6" height="5.6"/>
<rect x="558.60" y="138.40" width="5.6" height="5.6"/>
<rect x="561.20" y="137.83" width="5.6" height="5.6"/>
<rect x="563.80" y="140.56" width="5.6" height="5.6"/>
<rect x="566.40" y="142.82" width="5.6" height="5.6"/>
<rect x="569.00" y="142.77" width="5.6" height="5.6"/>
<rect x="571.60" y="145.04" width="5.6" height="5.6"/>
<rect x="574.20" y="147.43" width="5.6" height="5.6"/>
<rect x="576.80" y="147.36" width="5.6" height="5.6"/>
<rect x="579.40" y="149.89" width="5.6" height="5.6"/>
<rect x="582.00" y="152.09" width="5.6" height="5.6"/>
<rect x="584.60" y="153.64" width="5.6" height="5.6"/>
<rect x="587.20" y="154.97" width="5.6" height="5.6"/>
<rect x="589.80" y="156.18" width="5.6" height="5.6"/>
<rect x="592.40" y="158.64" width="5.6" height="5.6"/>
<rect x="595.00" y="160.24" width="5.6" height="5.6"/>
<rect x="597.60" y="162.35" width="5.6" height="5.6"/>
<rect x="600.20" y="164.02" width="5.6" height="5.6"/>
<rect x="602.80" y="167.00" width="5.6" height="5.6"/>
<rect x="605.40" y="168.81" width="5.6" height="5.6"/>
<rect x="608.00" y="169.81" width="5.6" height="5.6"/>
<rect x="610.60" y="172.39" width="5.6" height="5.6"/>
<rect x="613.20" y="173.78" width="5.6" height="5.6"/>
<rect x="615.80" y="176.23" width="5.6" height="5.6"/>
<rect x="618.40" y="178.10" width="5.6" height="5.6"/>
<rect x="621.00" y="180.93" width="5.6" height="5.6"/>
<rect x="621.20" y="181.24" width="5.6" height="5.6"/>
<rect x="625.34" y="183.67" width="5.6" height="5.6"/>
<rect x="629.14" y="187.49" width="5.6" height="5.6"/>
<rect x="632.65" y="190.15" width="5.6" height="5.6"/>
<rect x="635.91" y="194.03" width="5.6" height="5.6"/>
<rect x="638.95" y="197.44" width="5.6" height="5.6"/>
<rect x="641.80" y="198.50" width="5.6" height="5.6"/>
<rect x="644.48" y="202.82" width="5.6" height="5.6"/>
<rect x="647.02" y="203.96" width="5.6" height="5.6"/>
<rect x="649.42" y="205.29" width="5.6" height="5.6"/>
<rect x="651.70" y="207.26" width="5.6" height="5.6"/>
<rect x="653.87" y="209.15" width="5.6" height="5.6"/>
<rect x="655.95" y="211.52" width="5.6" height="5.6"/>
<rect x="657.93" y="214.34" width="5.6" height="5.6"/>
<rect x="659.83" y="216.80" width="5.6" height="5.6"/>
<rect x="661.66" y="218.71" width="5.6" height="5.6"/>
<rect x="663.41" y="219.14" width="5.6" height="5.6"/>
<rect x="665.10" y="221.53" width="5.6" height="5.6"/>
<rect x="666.73" y="221.29" width="5.6" height="5.6"/>
<rect x="668.31" y="223.94" width="5.6" height="5.6"/>
<rect x="669.83" y="226.16" width="5.6" height="5.6"/>
<rect x="671.30" y="224.99" width="5.6" height="5.6"/>
<rect x="672.73" y="226.77" width="5.6" height="5.6"/>
<rect x="674.11" y="230.86" width="5.6" height="5.6"/>
<rect x="675.45" y="230.09" width="5.6" height="5.6"/>
<rect x="676.76" y="231.11" width="5.6" height="5.6"/>
<rect x="678.02" y="234.36" width="5.6" height="5.6"/>
<rect x="679.26" y="234.85" width="5.6" height="5.6"/>
<rect x="680.46" y="233.59" width="5.6" height="5.6"/>
<rect x="681.63" y="236.19" width="5.6" height="5.6"/>
<rect x="682.77" y="238.85" width="5.6" height="5.6"/>
</g>
<polyline points="401.04,105.60 404.63,105.73 408.22,105.87 411.82,106.02 415.41,106.18 419.01,106.35 422.60,106.54 426.20,106.75 429.79,106.96 433.38,107.20 436.98,107.45 440.57,107.72 444.17,108.02 447.76,108.33 451.35,108.67 454.95,109.03 458.54,109.42 462.14,109.83 465.73,110.28 469.32,110.76 472.92,111.27 476.51,111.82 480.11,112.40 483.70,113.03 487.29,113.69 490.89,114.40 494.48,115.15 498.08,115.96 501.67,116.81 505.26,117.71 508.86,118.67 512.45,119.68 516.05,120.75 519.64,121.89 523.24,123.08 526.83,124.33 530.42,125.66 534.02,127.04 537.61,128.49 541.21,130.02 544.80,131.61 548.39,133.26 551.99,134.99 555.58,136.79 559.18,138.66 562.77,140.60 566.36,142.60 569.96,144.67 573.55,146.82 577.15,149.02 580.74,151.30 584.33,153.63 587.93,156.03 591.52,158.49 595.12,161.00 598.71,163.57 602.30,166.20 605.90,168.88 609.49,171.61 613.09,174.39 616.68,177.21 620.28,180.08 623.87,182.99 627.46,185.94 631.06,188.93 634.65,191.95 638.25,195.01 641.84,198.10 645.43,201.22 649.03,204.37 652.62,207.55 656.22,210.75 659.81,213.97 663.40,217.22 667.00,220.49 670.59,223.77 674.19,227.08 677.78,230.40 681.37,233.74 684.97,237.09" fill="none" stroke="#E6A723" stroke-width="2.7"/>
</g>
<rect x="388.00" y="6.00" width="296.50" height="238.50" fill="none" stroke="#262626" stroke-width="1"/>
<line x1="401.04" y1="244.50" x2="401.04" y2="242.50" stroke="#262626" stroke-width="1" />
<line x1="411.23" y1="244.50" x2="411.23" y2="242.50" stroke="#262626" stroke-width="1" />
<line x1="419.56" y1="244.50" x2="419.56" y2="242.50" stroke="#262626" stroke-width="1" />
<line x1="426.60" y1="244.50" x2="426.60" y2="242.50" stroke="#262626" stroke-width="1" />
<line x1="432.71" y1="244.50" x2="432.71" y2="242.50" stroke="#262626" stroke-width="1" />
<line x1="438.09" y1="244.50" x2="438.09" y2="242.50" stroke="#262626" stroke-width="1" />
<line x1="442.90" y1="244.50" x2="442.90" y2="241.50" stroke="#262626" stroke-width="1" />
<line x1="474.57" y1="244.50" x2="474.57" y2="242.50" stroke="#262626" stroke-width="1" />
<line x1="493.09" y1="244.50" x2="493.09" y2="242.50" stroke="#262626" stroke-width="1" />
<line x1="506.24" y1="244.50" x2="506.24" y2="242.50" stroke="#262626" stroke-width="1" />
<line x1="516.43" y1="244.50" x2="516.43" y2="242.50" stroke="#262626" stroke-width="1" />
<line x1="524.76" y1="244.50" x2="524.76" y2="242.50" stroke="#262626" stroke-width="1" />
<line x1="531.80" y1="244.50" x2="531.80" y2="242.50" stroke="#262626" stroke-width="1" />
<line x1="537.91" y1="244.50" x2="537.91" y2="242.50" stroke="#262626" stroke-width="1" />
<line x1="543.29" y1="244.50" x2="543.29" y2="242.50" stroke="#262626" stroke-width="1" />
<line x1="548.10" y1="244.50" x2="548.10" y2="241.50" stroke="#262626" stroke-width="1" />
<line x1="579.77" y1="244.50" x2="579.77" y2="242.50" stroke="#262626" stroke-width="1" />
<line x1="598.29" y1="244.50" x2="598.29" y2="242.50" stroke="#262626" stroke-width="1" />
<line x1="611.44" y1="244.50" x2="611.44" y2="242.50" stroke="#262626" stroke-width="1" />
<line x1="621.63" y1="244.50" x2="621.63" y2="242.50" stroke="#262626" stroke-width="1" />
<line x1="629.96" y1="244.50" x2="629.96" y2="242.50" stroke="#262626" stroke-width="1" />
<line x1="637.00" y1="244.50" x2="637.00" y2="242.50" stroke="#262626" stroke-width="1" />
<line x1="643.11" y1="244.50" x2="643.11" y2="242.50" stroke="#262626" stroke-width="1" />
<line x1="648.49" y1="244.50" x2="648.49" y2="242.50" stroke="#262626" stroke-width="1" />
<line x1="653.30" y1="244.50" x2="653.30" y2="241.50" stroke="#262626" stroke-width="1" />
<text x="442.90" y="258.30" font-size="14" text-anchor="middle" >1</text>
<text x="548.10" y="258.30" font-size="14" text-anchor="middle" >10</text>
<text x="653.30" y="258.30" font-size="14" text-anchor="middle" >100</text>
<line x1="388.00" y1="236.52" x2="390.00" y2="236.52" stroke="#262626" stroke-width="1" />
<line x1="388.00" y1="229.57" x2="390.00" y2="229.57" stroke="#262626" stroke-width="1" />
<line x1="388.00" y1="223.55" x2="390.00" y2="223.55" stroke="#262626" stroke-width="1" />
<line x1="388.00" y1="218.25" x2="390.00" y2="218.25" stroke="#262626" stroke-width="1" />
<line x1="388.00" y1="213.50" x2="391.00" y2="213.50" stroke="#262626" stroke-width="1" />
<line x1="388.00" y1="182.27" x2="390.00" y2="182.27" stroke="#262626" stroke-width="1" />
<line x1="388.00" y1="164.00" x2="390.00" y2="164.00" stroke="#262626" stroke-width="1" />
<line x1="388.00" y1="151.04" x2="390.00" y2="151.04" stroke="#262626" stroke-width="1" />
<line x1="388.00" y1="140.98" x2="390.00" y2="140.98" stroke="#262626" stroke-width="1" />
<line x1="388.00" y1="132.77" x2="390.00" y2="132.77" stroke="#262626" stroke-width="1" />
<line x1="388.00" y1="125.82" x2="390.00" y2="125.82" stroke="#262626" stroke-width="1" />
<line x1="388.00" y1="119.80" x2="390.00" y2="119.80" stroke="#262626" stroke-width="1" />
<line x1="388.00" y1="114.50" x2="390.00" y2="114.50" stroke="#262626" stroke-width="1" />
<line x1="388.00" y1="109.75" x2="391.00" y2="109.75" stroke="#262626" stroke-width="1" />
<line x1="388.00" y1="78.52" x2="390.00" y2="78.52" stroke="#262626" stroke-width="1" />
<line x1="388.00" y1="60.25" x2="390.00" y2="60.25" stroke="#262626" stroke-width="1" />
<line x1="388.00" y1="47.29" x2="390.00" y2="47.29" stroke="#262626" stroke-width="1" />
<line x1="388.00" y1="37.23" x2="390.00" y2="37.23" stroke="#262626" stroke-width="1" />
<line x1="388.00" y1="29.02" x2="390.00" y2="29.02" stroke="#262626" stroke-width="1" />
<line x1="388.00" y1="22.07" x2="390.00" y2="22.07" stroke="#262626" stroke-width="1" />
<line x1="388.00" y1="16.05" x2="390.00" y2="16.05" stroke="#262626" stroke-width="1" />
<line x1="388.00" y1="10.75" x2="390.00" y2="10.75" stroke="#262626" stroke-width="1" />
<text x="385.00" y="11.10" font-size="14" text-anchor="end" >10</text>
<text x="385.00" y="114.85" font-size="14" text-anchor="end" >1</text>
<text x="385.00" y="218.60" font-size="14" text-anchor="end" >0.1</text>
<text x="536.90" y="274.00" font-size="15.3" text-anchor="middle" >Temperature (K)</text>
<text transform="translate(365.9,125) rotate(-90)" font-size="15.5" text-anchor="middle" textLength="137.5" lengthAdjust="spacingAndGlyphs"><tspan font-size="17">&#967;</tspan><tspan font-size="11" font-style="italic" dy="4.2">ab</tspan><tspan dy="-4.2"> (emu Oe</tspan><tspan font-size="10" dy="-6">-1</tspan><tspan dy="6"> mol</tspan><tspan font-size="10" dy="-6">-1</tspan><tspan dy="6">)</tspan></text>
<line x1="400.00" y1="187.40" x2="429.30" y2="187.40" stroke="#E6A723" stroke-width="2.2" />
<text x="432.50" y="191.90" font-size="12.9" text-anchor="start" >CW Law</text>
<text x="400.3" y="209.5" font-size="12.7">&#956;<tspan font-size="10" dy="3">eff</tspan><tspan dy="-3"> = 10 &#956;</tspan><tspan font-size="10" dy="3">B</tspan></text>
<text x="400.3" y="229.3" font-size="12.7">&#952;<tspan font-size="10" dy="3">CW</tspan><tspan dy="-3"> = -11 K</tspan></text>
<g fill="#000">
<rect x="45.21" y="519.62" width="5.2" height="5.2"/>
<rect x="48.45" y="515.96" width="5.2" height="5.2"/>
<rect x="51.02" y="512.70" width="5.2" height="5.2"/>
<rect x="54.09" y="509.33" width="5.2" height="5.2"/>
<rect x="56.68" y="505.98" width="5.2" height="5.2"/>
<rect x="59.60" y="503.03" width="5.2" height="5.2"/>
<rect x="63.08" y="498.67" width="5.2" height="5.2"/>
<rect x="65.73" y="495.66" width="5.2" height="5.2"/>
<rect x="68.74" y="492.18" width="5.2" height="5.2"/>
<rect x="71.32" y="488.62" width="5.2" height="5.2"/>
<rect x="74.04" y="485.01" width="5.2" height="5.2"/>
<rect x="77.24" y="481.16" width="5.2" height="5.2"/>
<rect x="80.19" y="477.88" width="5.2" height="5.2"/>
<rect x="83.08" y="473.63" width="5.2" height="5.2"/>
<rect x="85.56" y="470.80" width="5.2" height="5.2"/>
<rect x="88.51" y="467.12" width="5.2" height="5.2"/>
<rect x="91.62" y="462.87" width="5.2" height="5.2"/>
<rect x="93.90" y="460.00" width="5.2" height="5.2"/>
<rect x="97.28" y="456.36" width="5.2" height="5.2"/>
<rect x="99.68" y="452.57" width="5.2" height="5.2"/>
<rect x="102.75" y="449.15" width="5.2" height="5.2"/>
<rect x="105.50" y="445.67" width="5.2" height="5.2"/>
<rect x="108.66" y="442.04" width="5.2" height="5.2"/>
<rect x="111.37" y="439.22" width="5.2" height="5.2"/>
<rect x="114.41" y="435.27" width="5.2" height="5.2"/>
<rect x="117.04" y="432.63" width="5.2" height="5.2"/>
<rect x="119.75" y="428.85" width="5.2" height="5.2"/>
<rect x="122.26" y="425.84" width="5.2" height="5.2"/>
<rect x="125.72" y="422.75" width="5.2" height="5.2"/>
<rect x="128.05" y="419.91" width="5.2" height="5.2"/>
<rect x="131.18" y="417.29" width="5.2" height="5.2"/>
<rect x="134.28" y="413.93" width="5.2" height="5.2"/>
<rect x="137.22" y="410.82" width="5.2" height="5.2"/>
<rect x="139.65" y="408.18" width="5.2" height="5.2"/>
<rect x="142.48" y="405.65" width="5.2" height="5.2"/>
<rect x="145.45" y="402.89" width="5.2" height="5.2"/>
<rect x="148.08" y="400.01" width="5.2" height="5.2"/>
<rect x="150.95" y="397.88" width="5.2" height="5.2"/>
<rect x="153.95" y="395.13" width="5.2" height="5.2"/>
<rect x="156.86" y="392.41" width="5.2" height="5.2"/>
<rect x="159.91" y="390.02" width="5.2" height="5.2"/>
<rect x="162.42" y="387.97" width="5.2" height="5.2"/>
<rect x="165.21" y="384.71" width="5.2" height="5.2"/>
<rect x="168.37" y="382.69" width="5.2" height="5.2"/>
<rect x="170.88" y="379.97" width="5.2" height="5.2"/>
<rect x="174.02" y="377.87" width="5.2" height="5.2"/>
<rect x="176.52" y="375.84" width="5.2" height="5.2"/>
<rect x="179.80" y="373.21" width="5.2" height="5.2"/>
<rect x="182.54" y="371.13" width="5.2" height="5.2"/>
<rect x="185.63" y="369.73" width="5.2" height="5.2"/>
<rect x="188.06" y="367.05" width="5.2" height="5.2"/>
<rect x="191.44" y="365.51" width="5.2" height="5.2"/>
<rect x="193.66" y="363.19" width="5.2" height="5.2"/>
<rect x="197.08" y="361.76" width="5.2" height="5.2"/>
<rect x="199.47" y="359.98" width="5.2" height="5.2"/>
<rect x="202.37" y="358.43" width="5.2" height="5.2"/>
<rect x="205.36" y="356.88" width="5.2" height="5.2"/>
<rect x="208.24" y="355.13" width="5.2" height="5.2"/>
<rect x="210.87" y="353.10" width="5.2" height="5.2"/>
<rect x="213.93" y="351.78" width="5.2" height="5.2"/>
<rect x="216.44" y="350.23" width="5.2" height="5.2"/>
<rect x="219.88" y="348.25" width="5.2" height="5.2"/>
<rect x="222.12" y="347.10" width="5.2" height="5.2"/>
<rect x="225.48" y="345.76" width="5.2" height="5.2"/>
<rect x="228.24" y="344.34" width="5.2" height="5.2"/>
<rect x="230.89" y="342.27" width="5.2" height="5.2"/>
<rect x="234.08" y="341.22" width="5.2" height="5.2"/>
<rect x="236.93" y="340.03" width="5.2" height="5.2"/>
<rect x="239.78" y="338.45" width="5.2" height="5.2"/>
<rect x="242.73" y="337.07" width="5.2" height="5.2"/>
<rect x="245.15" y="335.94" width="5.2" height="5.2"/>
<rect x="247.96" y="334.53" width="5.2" height="5.2"/>
<rect x="251.04" y="332.95" width="5.2" height="5.2"/>
<rect x="253.61" y="332.21" width="5.2" height="5.2"/>
<rect x="256.39" y="330.92" width="5.2" height="5.2"/>
<rect x="259.72" y="329.39" width="5.2" height="5.2"/>
<rect x="262.56" y="328.06" width="5.2" height="5.2"/>
<rect x="265.57" y="326.82" width="5.2" height="5.2"/>
<rect x="268.20" y="326.00" width="5.2" height="5.2"/>
<rect x="271.13" y="324.93" width="5.2" height="5.2"/>
<rect x="274.20" y="324.25" width="5.2" height="5.2"/>
<rect x="277.01" y="322.39" width="5.2" height="5.2"/>
<rect x="279.27" y="321.84" width="5.2" height="5.2"/>
<rect x="282.59" y="320.74" width="5.2" height="5.2"/>
<rect x="285.30" y="319.47" width="5.2" height="5.2"/>
<rect x="288.22" y="319.18" width="5.2" height="5.2"/>
<rect x="290.87" y="317.74" width="5.2" height="5.2"/>
<rect x="293.74" y="317.47" width="5.2" height="5.2"/>
<rect x="296.73" y="316.77" width="5.2" height="5.2"/>
<rect x="299.58" y="315.24" width="5.2" height="5.2"/>
<rect x="302.44" y="314.32" width="5.2" height="5.2"/>
<rect x="305.42" y="313.70" width="5.2" height="5.2"/>
<rect x="308.40" y="313.23" width="5.2" height="5.2"/>
<rect x="310.88" y="312.18" width="5.2" height="5.2"/>
<rect x="314.03" y="312.27" width="5.2" height="5.2"/>
<rect x="316.79" y="311.36" width="5.2" height="5.2"/>
<rect x="319.65" y="310.81" width="5.2" height="5.2"/>
<rect x="322.51" y="309.60" width="5.2" height="5.2"/>
<rect x="325.33" y="309.78" width="5.2" height="5.2"/>
<rect x="327.67" y="308.50" width="5.2" height="5.2"/>
<rect x="331.11" y="307.83" width="5.2" height="5.2"/>
<rect x="51.70" y="510.70" width="5.6" height="5.6"/>
<rect x="55.00" y="508.50" width="5.6" height="5.6"/>
<rect x="107.70" y="444.00" width="5.6" height="5.6"/>
<rect x="110.40" y="445.80" width="5.6" height="5.6"/>
</g>
<polyline points="49.34,520.91 51.74,518.13 54.14,515.31 56.53,512.45 58.93,509.56 61.33,506.65 63.73,503.70 66.12,500.73 68.52,497.75 70.92,494.74 73.32,491.73 75.71,488.70 78.11,485.66 80.51,482.62 82.91,479.58 85.30,476.55 87.70,473.51 90.10,470.49 92.50,467.48 94.89,464.48 97.29,461.50 99.69,458.54 102.09,455.60 104.48,452.69 106.88,449.81 109.28,446.95 111.68,444.12 114.07,441.33 116.47,438.56 118.87,435.83 121.27,433.14 123.66,430.48 126.06,427.86 128.46,425.29 130.86,422.75 133.25,420.24 135.65,417.78 138.05,415.35 140.45,412.95 142.84,410.59 145.24,408.27 147.64,405.97 150.04,403.71 152.43,401.47 154.83,399.27 157.23,397.09 159.63,394.94 162.02,392.83 164.42,390.74 166.82,388.69 169.22,386.67 171.61,384.69 174.01,382.74 176.41,380.82 178.81,378.94 181.20,377.10 183.60,375.29 186.00,373.52 188.39,371.79 190.79,370.09 193.19,368.44 195.59,366.82 197.98,365.24 200.38,363.69 202.78,362.18 205.18,360.70 207.57,359.25 209.97,357.82 212.37,356.43 214.77,355.06 217.16,353.71 219.56,352.39 221.96,351.09 224.36,349.82 226.75,348.56 229.15,347.31 231.55,346.09 233.95,344.88 236.34,343.70 238.74,342.53 241.14,341.37 243.54,340.24 245.93,339.12 248.33,338.02 250.73,336.94 253.13,335.88 255.52,334.84 257.92,333.81 260.32,332.80 262.72,331.81 265.11,330.84 267.51,329.88 269.91,328.95 272.31,328.03 274.70,327.13 277.10,326.25 279.50,325.39 281.90,324.55 284.29,323.72 286.69,322.91 289.09,322.12 291.49,321.35 293.88,320.60 296.28,319.87 298.68,319.16 301.08,318.46 303.47,317.78 305.87,317.12 308.27,316.48 310.67,315.86 313.06,315.26 315.46,314.68 317.86,314.11 320.26,313.57 322.65,313.04 325.05,312.53 327.45,312.04 329.85,311.57 332.24,311.12 334.64,310.69" fill="none" stroke="#E6A723" stroke-width="2.2"/>
<rect x="42.50" y="289.30" width="296.90" height="239.10" fill="none" stroke="#262626" stroke-width="1"/>
<line x1="48.20" y1="528.40" x2="48.20" y2="525.40" stroke="#262626" stroke-width="1" />
<text x="48.20" y="542.00" font-size="14" text-anchor="middle" >0</text>
<line x1="42.50" y1="524.20" x2="45.50" y2="524.20" stroke="#262626" stroke-width="1" />
<text x="39.80" y="529.30" font-size="14" text-anchor="end" >0</text>
<line x1="105.26" y1="528.40" x2="105.26" y2="525.40" stroke="#262626" stroke-width="1" />
<text x="105.26" y="542.00" font-size="14" text-anchor="middle" >1</text>
<line x1="42.50" y1="481.46" x2="45.50" y2="481.46" stroke="#262626" stroke-width="1" />
<text x="39.80" y="486.56" font-size="14" text-anchor="end" >1</text>
<line x1="162.32" y1="528.40" x2="162.32" y2="525.40" stroke="#262626" stroke-width="1" />
<text x="162.32" y="542.00" font-size="14" text-anchor="middle" >2</text>
<line x1="42.50" y1="438.72" x2="45.50" y2="438.72" stroke="#262626" stroke-width="1" />
<text x="39.80" y="443.82" font-size="14" text-anchor="end" >2</text>
<line x1="219.38" y1="528.40" x2="219.38" y2="525.40" stroke="#262626" stroke-width="1" />
<text x="219.38" y="542.00" font-size="14" text-anchor="middle" >3</text>
<line x1="42.50" y1="395.98" x2="45.50" y2="395.98" stroke="#262626" stroke-width="1" />
<text x="39.80" y="401.08" font-size="14" text-anchor="end" >3</text>
<line x1="276.44" y1="528.40" x2="276.44" y2="525.40" stroke="#262626" stroke-width="1" />
<text x="276.44" y="542.00" font-size="14" text-anchor="middle" >4</text>
<line x1="42.50" y1="353.24" x2="45.50" y2="353.24" stroke="#262626" stroke-width="1" />
<text x="39.80" y="358.34" font-size="14" text-anchor="end" >4</text>
<line x1="333.50" y1="528.40" x2="333.50" y2="525.40" stroke="#262626" stroke-width="1" />
<text x="333.50" y="542.00" font-size="14" text-anchor="middle" >5</text>
<line x1="42.50" y1="310.50" x2="45.50" y2="310.50" stroke="#262626" stroke-width="1" />
<text x="39.80" y="315.60" font-size="14" text-anchor="end" >5</text>
<text x="191.00" y="558.40" font-size="15" text-anchor="middle" >Magnetic field (T)</text>
<text transform="translate(15.6,408.9) rotate(-90)" font-size="15.3" text-anchor="middle" textLength="155" lengthAdjust="spacingAndGlyphs">Magnetization (&#956;<tspan font-size="10" dy="3">B</tspan><tspan dy="-3">/Tb</tspan><tspan font-size="10" dy="-6">3+</tspan><tspan dy="6">)</tspan></text>
<line x1="229.00" y1="382.80" x2="259.10" y2="382.80" stroke="#E6A723" stroke-width="2.2" />
<text x="262.30" y="387.10" font-size="12.8" text-anchor="start" >Paramagnet</text>
<text x="229.8" y="405.3" font-size="12.8">M<tspan font-size="9.5" dy="3">S</tspan><tspan dy="-3"> ~ 6.5 &#956;</tspan><tspan font-size="9.5" dy="3">B</tspan><tspan dy="-3"> /Tb</tspan><tspan font-size="8" dy="-5.5">3+</tspan></text>
<text x="291.6" y="499.7" font-size="12.8">H || <tspan font-style="italic">ab</tspan></text>
<text x="291.6" y="514.8" font-size="12.8">1.8 K</text>
<defs><clipPath id="cd"><rect x="388.2" y="289.3" width="296.3" height="238.9"/></clipPath></defs>
<g clip-path="url(#cd)">
<polyline points="397.66,502.55 399.39,494.21 401.80,487.05 405.74,478.43 410.02,469.36 413.12,464.29 416.30,459.69 419.75,454.12 423.55,449.59 428.03,446.30 435.63,437.41 442.53,429.94 451.78,421.61 462.69,415.92 477.18,413.42 488.37,417.52 503.28,421.61 519.50,427.07 526.61,432.07 545.80,438.44 563.68,441.39 575.14,446.40 589.22,450.49 598.12,454.13 616.76,457.99 633.88,460.04 650.45,465.73 662.46,469.82 673.44,471.64" fill="none" stroke="#A26DC3" stroke-width="1"/>
<g fill="#A26DC3"><circle cx="397.66" cy="502.55" r="3"/><circle cx="399.39" cy="494.21" r="3"/><circle cx="401.80" cy="487.05" r="3"/><circle cx="405.74" cy="478.43" r="3"/><circle cx="410.02" cy="469.36" r="3"/><circle cx="413.12" cy="464.29" r="3"/><circle cx="416.30" cy="459.69" r="3"/><circle cx="419.75" cy="454.12" r="3"/><circle cx="423.55" cy="449.59" r="3"/><circle cx="428.03" cy="446.30" r="3"/><circle cx="435.63" cy="437.41" r="3"/><circle cx="442.53" cy="429.94" r="3"/><circle cx="451.78" cy="421.61" r="3"/><circle cx="462.69" cy="415.92" r="3"/><circle cx="477.18" cy="413.42" r="3"/><circle cx="488.37" cy="417.52" r="3"/><circle cx="503.28" cy="421.61" r="3"/><circle cx="519.50" cy="427.07" r="3"/><circle cx="526.61" cy="432.07" r="3"/><circle cx="545.80" cy="438.44" r="3"/><circle cx="563.68" cy="441.39" r="3"/><circle cx="575.14" cy="446.40" r="3"/><circle cx="589.22" cy="450.49" r="3"/><circle cx="598.12" cy="454.13" r="3"/><circle cx="616.76" cy="457.99" r="3"/><circle cx="633.88" cy="460.04" r="3"/><circle cx="650.45" cy="465.73" r="3"/><circle cx="662.46" cy="469.82" r="3"/><circle cx="673.44" cy="471.64" r="3"/></g>
<polyline points="397.66,491.72 399.39,483.32 401.80,476.30 405.74,467.99 410.02,459.18 413.12,454.08 416.30,449.41 419.75,443.88 423.55,439.32 428.03,435.97 435.63,427.24 442.53,419.87 451.78,411.81 462.69,406.75 477.18,404.49 488.37,408.43 503.28,412.29 519.50,417.14 526.61,422.32 545.80,428.07 563.68,431.03 575.14,435.94 589.22,439.66 598.12,443.54 616.76,447.89 633.88,450.14 650.45,456.00 662.46,460.02 673.44,462.30" fill="none" stroke="#9B5FB8" stroke-width="1"/>
<g fill="#9B5FB8"><circle cx="397.66" cy="491.72" r="3"/><circle cx="399.39" cy="483.32" r="3"/><circle cx="401.80" cy="476.30" r="3"/><circle cx="405.74" cy="467.99" r="3"/><circle cx="410.02" cy="459.18" r="3"/><circle cx="413.12" cy="454.08" r="3"/><circle cx="416.30" cy="449.41" r="3"/><circle cx="419.75" cy="443.88" r="3"/><circle cx="423.55" cy="439.32" r="3"/><circle cx="428.03" cy="435.97" r="3"/><circle cx="435.63" cy="427.24" r="3"/><circle cx="442.53" cy="419.87" r="3"/><circle cx="451.78" cy="411.81" r="3"/><circle cx="462.69" cy="406.75" r="3"/><circle cx="477.18" cy="404.49" r="3"/><circle cx="488.37" cy="408.43" r="3"/><circle cx="503.28" cy="412.29" r="3"/><circle cx="519.50" cy="417.14" r="3"/><circle cx="526.61" cy="422.32" r="3"/><circle cx="545.80" cy="428.07" r="3"/><circle cx="563.68" cy="431.03" r="3"/><circle cx="575.14" cy="435.94" r="3"/><circle cx="589.22" cy="439.66" r="3"/><circle cx="598.12" cy="443.54" r="3"/><circle cx="616.76" cy="447.89" r="3"/><circle cx="633.88" cy="450.14" r="3"/><circle cx="650.45" cy="456.00" r="3"/><circle cx="662.46" cy="460.02" r="3"/><circle cx="673.44" cy="462.30" r="3"/></g>
<polyline points="397.66,482.88 399.39,474.43 401.80,467.53 405.74,459.47 410.02,450.86 413.12,445.76 416.30,441.03 419.75,435.52 423.55,430.95 428.03,427.54 435.63,418.93 442.53,411.66 451.78,403.82 462.69,399.26 477.18,397.45 488.37,401.48 503.28,405.40 519.50,410.07 526.61,415.47 545.80,421.07 563.68,424.28 575.14,429.26 589.22,432.88 598.12,436.74 616.76,441.04 633.88,443.09 650.45,448.71 662.46,452.43 673.44,454.83" fill="none" stroke="#9755B0" stroke-width="1"/>
<g fill="#9755B0"><circle cx="397.66" cy="482.88" r="3"/><circle cx="399.39" cy="474.43" r="3"/><circle cx="401.80" cy="467.53" r="3"/><circle cx="405.74" cy="459.47" r="3"/><circle cx="410.02" cy="450.86" r="3"/><circle cx="413.12" cy="445.76" r="3"/><circle cx="416.30" cy="441.03" r="3"/><circle cx="419.75" cy="435.52" r="3"/><circle cx="423.55" cy="430.95" r="3"/><circle cx="428.03" cy="427.54" r="3"/><circle cx="435.63" cy="418.93" r="3"/><circle cx="442.53" cy="411.66" r="3"/><circle cx="451.78" cy="403.82" r="3"/><circle cx="462.69" cy="399.26" r="3"/><circle cx="477.18" cy="397.45" r="3"/><circle cx="488.37" cy="401.48" r="3"/><circle cx="503.28" cy="405.40" r="3"/><circle cx="519.50" cy="410.07" r="3"/><circle cx="526.61" cy="415.47" r="3"/><circle cx="545.80" cy="421.07" r="3"/><circle cx="563.68" cy="424.28" r="3"/><circle cx="575.14" cy="429.26" r="3"/><circle cx="589.22" cy="432.88" r="3"/><circle cx="598.12" cy="436.74" r="3"/><circle cx="616.76" cy="441.04" r="3"/><circle cx="633.88" cy="443.09" r="3"/><circle cx="650.45" cy="448.71" r="3"/><circle cx="662.46" cy="452.43" r="3"/><circle cx="673.44" cy="454.83" r="3"/></g>
<polyline points="397.66,471.67 399.39,463.15 401.80,456.40 405.74,448.66 410.02,440.32 413.12,435.19 416.30,430.39 419.75,424.93 423.55,420.32 428.03,416.84 435.63,408.40 442.53,401.24 451.78,393.67 462.69,389.76 477.18,388.49 488.37,392.61 503.28,396.58 519.50,400.99 526.61,406.67 545.80,412.04 563.68,415.53 575.14,420.60 589.22,424.05 598.12,427.79 616.76,431.84 633.88,433.47 650.45,438.64 662.46,441.82 673.44,444.30" fill="none" stroke="#9249A6" stroke-width="1"/>
<g fill="#9249A6"><circle cx="397.66" cy="471.67" r="3"/><circle cx="399.39" cy="463.15" r="3"/><circle cx="401.80" cy="456.40" r="3"/><circle cx="405.74" cy="448.66" r="3"/><circle cx="410.02" cy="440.32" r="3"/><circle cx="413.12" cy="435.19" r="3"/><circle cx="416.30" cy="430.39" r="3"/><circle cx="419.75" cy="424.93" r="3"/><circle cx="423.55" cy="420.32" r="3"/><circle cx="428.03" cy="416.84" r="3"/><circle cx="435.63" cy="408.40" r="3"/><circle cx="442.53" cy="401.24" r="3"/><circle cx="451.78" cy="393.67" r="3"/><circle cx="462.69" cy="389.76" r="3"/><circle cx="477.18" cy="388.49" r="3"/><circle cx="488.37" cy="392.61" r="3"/><circle cx="503.28" cy="396.58" r="3"/><circle cx="519.50" cy="400.99" r="3"/><circle cx="526.61" cy="406.67" r="3"/><circle cx="545.80" cy="412.04" r="3"/><circle cx="563.68" cy="415.53" r="3"/><circle cx="575.14" cy="420.60" r="3"/><circle cx="589.22" cy="424.05" r="3"/><circle cx="598.12" cy="427.79" r="3"/><circle cx="616.76" cy="431.84" r="3"/><circle cx="633.88" cy="433.47" r="3"/><circle cx="650.45" cy="438.64" r="3"/><circle cx="662.46" cy="441.82" r="3"/><circle cx="673.44" cy="444.30" r="3"/></g>
<polyline points="397.66,461.31 399.39,452.73 401.80,446.12 405.74,438.67 410.02,430.58 413.12,425.43 416.30,420.57 419.75,415.14 423.55,410.50 428.03,406.96 435.63,398.67 442.53,391.61 451.78,384.30 462.69,380.99 477.18,380.24 488.37,384.46 503.28,388.50 519.50,392.70 526.61,398.64 545.80,403.82 563.68,407.60 575.14,412.76 589.22,416.12 598.12,420.08 616.76,424.61 633.88,426.48 650.45,431.70 662.46,442.50 673.44,437.96" fill="none" stroke="#8D44A0" stroke-width="1"/>
<g fill="#8D44A0"><circle cx="397.66" cy="461.31" r="3"/><circle cx="399.39" cy="452.73" r="3"/><circle cx="401.80" cy="446.12" r="3"/><circle cx="405.74" cy="438.67" r="3"/><circle cx="410.02" cy="430.58" r="3"/><circle cx="413.12" cy="425.43" r="3"/><circle cx="416.30" cy="420.57" r="3"/><circle cx="419.75" cy="415.14" r="3"/><circle cx="423.55" cy="410.50" r="3"/><circle cx="428.03" cy="406.96" r="3"/><circle cx="435.63" cy="398.67" r="3"/><circle cx="442.53" cy="391.61" r="3"/><circle cx="451.78" cy="384.30" r="3"/><circle cx="462.69" cy="380.99" r="3"/><circle cx="477.18" cy="380.24" r="3"/><circle cx="488.37" cy="384.46" r="3"/><circle cx="503.28" cy="388.50" r="3"/><circle cx="519.50" cy="392.70" r="3"/><circle cx="526.61" cy="398.64" r="3"/><circle cx="545.80" cy="403.82" r="3"/><circle cx="563.68" cy="407.60" r="3"/><circle cx="575.14" cy="412.76" r="3"/><circle cx="589.22" cy="416.12" r="3"/><circle cx="598.12" cy="420.08" r="3"/><circle cx="616.76" cy="424.61" r="3"/><circle cx="633.88" cy="426.48" r="3"/><circle cx="650.45" cy="431.70" r="3"/><circle cx="662.46" cy="442.50" r="3"/><circle cx="673.44" cy="437.96" r="3"/></g>
<polyline points="397.66,452.48 399.39,443.85 401.80,437.34 405.74,430.15 410.02,422.27 413.12,417.11 416.30,412.19 419.75,406.79 423.55,402.13 428.03,398.53 435.63,390.37 442.53,383.40 451.78,376.31 462.69,373.50 477.18,373.08 488.37,377.27 503.28,381.25 519.50,385.11 526.61,391.23 545.80,396.08 563.68,399.99 575.14,405.14 589.22,408.28 598.12,412.21 616.76,416.65 633.88,418.27 650.45,423.38 662.46,426.22 673.44,429.21" fill="none" stroke="#873A99" stroke-width="1"/>
<g fill="#873A99"><circle cx="397.66" cy="452.48" r="3"/><circle cx="399.39" cy="443.85" r="3"/><circle cx="401.80" cy="437.34" r="3"/><circle cx="405.74" cy="430.15" r="3"/><circle cx="410.02" cy="422.27" r="3"/><circle cx="413.12" cy="417.11" r="3"/><circle cx="416.30" cy="412.19" r="3"/><circle cx="419.75" cy="406.79" r="3"/><circle cx="423.55" cy="402.13" r="3"/><circle cx="428.03" cy="398.53" r="3"/><circle cx="435.63" cy="390.37" r="3"/><circle cx="442.53" cy="383.40" r="3"/><circle cx="451.78" cy="376.31" r="3"/><circle cx="462.69" cy="373.50" r="3"/><circle cx="477.18" cy="373.08" r="3"/><circle cx="488.37" cy="377.27" r="3"/><circle cx="503.28" cy="381.25" r="3"/><circle cx="519.50" cy="385.11" r="3"/><circle cx="526.61" cy="391.23" r="3"/><circle cx="545.80" cy="396.08" r="3"/><circle cx="563.68" cy="399.99" r="3"/><circle cx="575.14" cy="405.14" r="3"/><circle cx="589.22" cy="408.28" r="3"/><circle cx="598.12" cy="412.21" r="3"/><circle cx="616.76" cy="416.65" r="3"/><circle cx="633.88" cy="418.27" r="3"/><circle cx="650.45" cy="423.38" r="3"/><circle cx="662.46" cy="426.22" r="3"/><circle cx="673.44" cy="429.21" r="3"/></g>
<polyline points="397.66,441.65 399.39,432.95 401.80,426.59 405.74,419.71 410.02,412.08 413.12,406.90 416.30,401.91 419.75,396.55 423.55,391.86 428.03,388.20 435.63,380.20 442.53,373.33 451.78,366.51 462.69,364.32 477.18,364.74 488.37,369.27 503.28,373.63 519.50,377.62 526.61,384.12 545.80,389.18 563.68,393.65 575.14,399.08 589.22,402.38 598.12,406.46 616.76,411.22 633.88,412.99 650.45,418.24 662.46,421.09 673.44,424.35" fill="none" stroke="#7F2F93" stroke-width="1"/>
<g fill="#7F2F93"><circle cx="397.66" cy="441.65" r="3"/><circle cx="399.39" cy="432.95" r="3"/><circle cx="401.80" cy="426.59" r="3"/><circle cx="405.74" cy="419.71" r="3"/><circle cx="410.02" cy="412.08" r="3"/><circle cx="413.12" cy="406.90" r="3"/><circle cx="416.30" cy="401.91" r="3"/><circle cx="419.75" cy="396.55" r="3"/><circle cx="423.55" cy="391.86" r="3"/><circle cx="428.03" cy="388.20" r="3"/><circle cx="435.63" cy="380.20" r="3"/><circle cx="442.53" cy="373.33" r="3"/><circle cx="451.78" cy="366.51" r="3"/><circle cx="462.69" cy="364.32" r="3"/><circle cx="477.18" cy="364.74" r="3"/><circle cx="488.37" cy="369.27" r="3"/><circle cx="503.28" cy="373.63" r="3"/><circle cx="519.50" cy="377.62" r="3"/><circle cx="526.61" cy="384.12" r="3"/><circle cx="545.80" cy="389.18" r="3"/><circle cx="563.68" cy="393.65" r="3"/><circle cx="575.14" cy="399.08" r="3"/><circle cx="589.22" cy="402.38" r="3"/><circle cx="598.12" cy="406.46" r="3"/><circle cx="616.76" cy="411.22" r="3"/><circle cx="633.88" cy="412.99" r="3"/><circle cx="650.45" cy="418.24" r="3"/><circle cx="662.46" cy="421.09" r="3"/><circle cx="673.44" cy="424.35" r="3"/></g>
<polyline points="397.66,430.53 399.39,421.77 401.80,415.56 405.74,408.99 410.02,401.62 413.12,396.43 416.30,391.36 419.75,386.04 423.55,381.32 428.03,377.60 435.63,369.76 442.53,362.99 451.78,356.45 462.69,354.91 477.18,356.20 488.37,361.09 503.28,365.86 519.50,370.00 526.61,376.90 545.80,382.21 563.68,387.28 575.14,393.00 589.22,396.46 598.12,400.59 616.76,405.44 633.88,407.17 650.45,412.36 662.46,415.04 673.44,418.48" fill="none" stroke="#79278D" stroke-width="1"/>
<g fill="#79278D"><circle cx="397.66" cy="430.53" r="3"/><circle cx="399.39" cy="421.77" r="3"/><circle cx="401.80" cy="415.56" r="3"/><circle cx="405.74" cy="408.99" r="3"/><circle cx="410.02" cy="401.62" r="3"/><circle cx="413.12" cy="396.43" r="3"/><circle cx="416.30" cy="391.36" r="3"/><circle cx="419.75" cy="386.04" r="3"/><circle cx="423.55" cy="381.32" r="3"/><circle cx="428.03" cy="377.60" r="3"/><circle cx="435.63" cy="369.76" r="3"/><circle cx="442.53" cy="362.99" r="3"/><circle cx="451.78" cy="356.45" r="3"/><circle cx="462.69" cy="354.91" r="3"/><circle cx="477.18" cy="356.20" r="3"/><circle cx="488.37" cy="361.09" r="3"/><circle cx="503.28" cy="365.86" r="3"/><circle cx="519.50" cy="370.00" r="3"/><circle cx="526.61" cy="376.90" r="3"/><circle cx="545.80" cy="382.21" r="3"/><circle cx="563.68" cy="387.28" r="3"/><circle cx="575.14" cy="393.00" r="3"/><circle cx="589.22" cy="396.46" r="3"/><circle cx="598.12" cy="400.59" r="3"/><circle cx="616.76" cy="405.44" r="3"/><circle cx="633.88" cy="407.17" r="3"/><circle cx="650.45" cy="412.36" r="3"/><circle cx="662.46" cy="415.04" r="3"/><circle cx="673.44" cy="418.48" r="3"/></g>
<polyline points="397.66,420.27 399.39,411.45 401.80,405.37 405.74,399.09 410.02,391.97 413.12,386.76 416.30,381.63 419.75,376.34 423.55,371.60 428.03,367.81 435.63,360.12 442.53,353.45 451.78,347.17 462.69,346.21 477.18,348.28 488.37,353.47 503.28,358.58 519.50,362.82 526.61,370.06 545.80,375.55 563.68,381.13 575.14,387.10 589.22,390.66 598.12,394.73 616.76,399.44 633.88,400.90 650.45,405.81 662.46,408.15 673.44,411.64" fill="none" stroke="#731F87" stroke-width="1"/>
<g fill="#731F87"><circle cx="397.66" cy="420.27" r="3"/><circle cx="399.39" cy="411.45" r="3"/><circle cx="401.80" cy="405.37" r="3"/><circle cx="405.74" cy="399.09" r="3"/><circle cx="410.02" cy="391.97" r="3"/><circle cx="413.12" cy="386.76" r="3"/><circle cx="416.30" cy="381.63" r="3"/><circle cx="419.75" cy="376.34" r="3"/><circle cx="423.55" cy="371.60" r="3"/><circle cx="428.03" cy="367.81" r="3"/><circle cx="435.63" cy="360.12" r="3"/><circle cx="442.53" cy="353.45" r="3"/><circle cx="451.78" cy="347.17" r="3"/><circle cx="462.69" cy="346.21" r="3"/><circle cx="477.18" cy="348.28" r="3"/><circle cx="488.37" cy="353.47" r="3"/><circle cx="503.28" cy="358.58" r="3"/><circle cx="519.50" cy="362.82" r="3"/><circle cx="526.61" cy="370.06" r="3"/><circle cx="545.80" cy="375.55" r="3"/><circle cx="563.68" cy="381.13" r="3"/><circle cx="575.14" cy="387.10" r="3"/><circle cx="589.22" cy="390.66" r="3"/><circle cx="598.12" cy="394.73" r="3"/><circle cx="616.76" cy="399.44" r="3"/><circle cx="633.88" cy="400.90" r="3"/><circle cx="650.45" cy="405.81" r="3"/><circle cx="662.46" cy="408.15" r="3"/><circle cx="673.44" cy="411.64" r="3"/></g>
<polyline points="397.66,407.53 399.39,398.64 401.80,392.73 405.74,386.82 410.02,380.00 413.12,374.77 416.30,369.55 419.75,364.30 423.55,359.53 428.03,355.66 435.63,348.16 442.53,341.62 451.78,335.65 462.69,335.42 477.18,338.61 488.37,344.29 503.28,349.98 519.50,354.53 526.61,362.26 545.80,368.17 563.68,374.54 575.14,380.90 589.22,384.77 598.12,389.09 616.76,394.32 633.88,396.14 650.45,401.37 662.46,403.87 673.44,407.74" fill="none" stroke="#6B1A7F" stroke-width="1"/>
<g fill="#6B1A7F"><circle cx="397.66" cy="407.53" r="3"/><circle cx="399.39" cy="398.64" r="3"/><circle cx="401.80" cy="392.73" r="3"/><circle cx="405.74" cy="386.82" r="3"/><circle cx="410.02" cy="380.00" r="3"/><circle cx="413.12" cy="374.77" r="3"/><circle cx="416.30" cy="369.55" r="3"/><circle cx="419.75" cy="364.30" r="3"/><circle cx="423.55" cy="359.53" r="3"/><circle cx="428.03" cy="355.66" r="3"/><circle cx="435.63" cy="348.16" r="3"/><circle cx="442.53" cy="341.62" r="3"/><circle cx="451.78" cy="335.65" r="3"/><circle cx="462.69" cy="335.42" r="3"/><circle cx="477.18" cy="338.61" r="3"/><circle cx="488.37" cy="344.29" r="3"/><circle cx="503.28" cy="349.98" r="3"/><circle cx="519.50" cy="354.53" r="3"/><circle cx="526.61" cy="362.26" r="3"/><circle cx="545.80" cy="368.17" r="3"/><circle cx="563.68" cy="374.54" r="3"/><circle cx="575.14" cy="380.90" r="3"/><circle cx="589.22" cy="384.77" r="3"/><circle cx="598.12" cy="389.09" r="3"/><circle cx="616.76" cy="394.32" r="3"/><circle cx="633.88" cy="396.14" r="3"/><circle cx="650.45" cy="401.37" r="3"/><circle cx="662.46" cy="403.87" r="3"/><circle cx="673.44" cy="407.74" r="3"/></g>
</g>
<rect x="388.00" y="289.30" width="296.50" height="239.00" fill="none" stroke="#262626" stroke-width="1"/>
<line x1="394.90" y1="528.30" x2="394.90" y2="525.30" stroke="#262626" stroke-width="1" />
<text x="394.90" y="541.30" font-size="14" text-anchor="middle" >0</text>
<line x1="463.93" y1="528.30" x2="463.93" y2="525.30" stroke="#262626" stroke-width="1" />
<text x="463.93" y="541.30" font-size="14" text-anchor="middle" >1</text>
<line x1="532.96" y1="528.30" x2="532.96" y2="525.30" stroke="#262626" stroke-width="1" />
<text x="532.96" y="541.30" font-size="14" text-anchor="middle" >2</text>
<line x1="601.99" y1="528.30" x2="601.99" y2="525.30" stroke="#262626" stroke-width="1" />
<text x="601.99" y="541.30" font-size="14" text-anchor="middle" >3</text>
<line x1="671.02" y1="528.30" x2="671.02" y2="525.30" stroke="#262626" stroke-width="1" />
<text x="671.02" y="541.30" font-size="14" text-anchor="middle" >4</text>
<line x1="388.00" y1="505.52" x2="391.00" y2="505.52" stroke="#262626" stroke-width="1" />
<text x="385.30" y="510.62" font-size="14" text-anchor="end" >0.2</text>
<line x1="388.00" y1="460.04" x2="391.00" y2="460.04" stroke="#262626" stroke-width="1" />
<text x="385.30" y="465.14" font-size="14" text-anchor="end" >0.4</text>
<line x1="388.00" y1="414.56" x2="391.00" y2="414.56" stroke="#262626" stroke-width="1" />
<text x="385.30" y="419.66" font-size="14" text-anchor="end" >0.6</text>
<line x1="388.00" y1="369.08" x2="391.00" y2="369.08" stroke="#262626" stroke-width="1" />
<text x="385.30" y="374.18" font-size="14" text-anchor="end" >0.8</text>
<line x1="388.00" y1="323.60" x2="391.00" y2="323.60" stroke="#262626" stroke-width="1" />
<text x="385.30" y="328.70" font-size="14" text-anchor="end" >1.0</text>
<text x="537.00" y="558.10" font-size="15.3" text-anchor="middle" >Temperature (K)</text>
<text transform="translate(361,411.1) rotate(-90)" font-size="16" text-anchor="middle">&#967;'<tspan font-size="10" font-style="italic" dy="3">c</tspan><tspan dy="-3"> (arb. units)</tspan></text>
<text x="625.80" y="304.20" font-size="12" text-anchor="middle" >AC frequency (Hz)</text>
<line x1="570.20" y1="315.00" x2="598.20" y2="315.00" stroke="#6B1A7F" stroke-width="1.1" />
<circle cx="584.20" cy="315.00" r="3" fill="#6B1A7F"/>
<text x="611.40" y="319.40" font-size="12.6" text-anchor="middle" >7</text>
<line x1="623.50" y1="315.00" x2="651.50" y2="315.00" stroke="#8D44A0" stroke-width="1.1" />
<circle cx="637.50" cy="315.00" r="3" fill="#8D44A0"/>
<text x="668.10" y="319.40" font-size="12.6" text-anchor="middle" >774</text>
<line x1="570.20" y1="329.95" x2="598.20" y2="329.95" stroke="#731F87" stroke-width="1.1" />
<circle cx="584.20" cy="329.95" r="3" fill="#731F87"/>
<text x="611.40" y="334.35" font-size="12.6" text-anchor="middle" >53</text>
<line x1="623.50" y1="329.95" x2="651.50" y2="329.95" stroke="#9249A6" stroke-width="1.1" />
<circle cx="637.50" cy="329.95" r="3" fill="#9249A6"/>
<text x="668.10" y="334.35" font-size="12.6" text-anchor="middle" >977</text>
<line x1="570.20" y1="344.90" x2="598.20" y2="344.90" stroke="#79278D" stroke-width="1.1" />
<circle cx="584.20" cy="344.90" r="3" fill="#79278D"/>
<text x="611.40" y="349.30" font-size="12.6" text-anchor="middle" >113</text>
<line x1="623.50" y1="344.90" x2="651.50" y2="344.90" stroke="#9755B0" stroke-width="1.1" />
<circle cx="637.50" cy="344.90" r="3" fill="#9755B0"/>
<text x="668.10" y="349.30" font-size="12.6" text-anchor="middle" >1578</text>
<line x1="570.20" y1="359.85" x2="598.20" y2="359.85" stroke="#7F2F93" stroke-width="1.1" />
<circle cx="584.20" cy="359.85" r="3" fill="#7F2F93"/>
<text x="611.40" y="364.25" font-size="12.6" text-anchor="middle" >233</text>
<line x1="623.50" y1="359.85" x2="651.50" y2="359.85" stroke="#9B5FB8" stroke-width="1.1" />
<circle cx="637.50" cy="359.85" r="3" fill="#9B5FB8"/>
<text x="668.10" y="364.25" font-size="12.6" text-anchor="middle" >2132</text>
<line x1="570.20" y1="374.80" x2="598.20" y2="374.80" stroke="#873A99" stroke-width="1.1" />
<circle cx="584.20" cy="374.80" r="3" fill="#873A99"/>
<text x="611.40" y="379.20" font-size="12.6" text-anchor="middle" >524</text>
<line x1="623.50" y1="374.80" x2="651.50" y2="374.80" stroke="#A26DC3" stroke-width="1.1" />
<circle cx="637.50" cy="374.80" r="3" fill="#A26DC3"/>
<text x="668.10" y="379.20" font-size="12.6" text-anchor="middle" >2514</text>
<g>
<polygon points="489.3,503 513.1,478.4 513.1,493.5 489.3,517.2" fill="#BDBDBD" stroke="#9A9A9A" stroke-width="0.6"/>
<polygon points="419.6,503 489.3,503 513.1,478.4 442.6,478.4" fill="#E6E6E6" stroke="#AAAAAA" stroke-width="0.6"/>
<rect x="419.6" y="503" width="69.7" height="14.2" fill="#E9E9E9" stroke="#9E9E9E" stroke-width="0.7"/>
<polygon points="431.1,490.2 501.6,490.2 513.1,478.4 442.6,478.4" fill="#7D7D7D"/>
<polygon points="431.1,489.2 501.6,489.2 502.6,488.2 513.1,478.4 513.1,480.4 501.6,491.6 431.1,491.6" fill="#555"/>
<polygon points="446.4,497.3 473.2,497.3 483.2,484.9 455.6,484.9" fill="none" stroke="#333" stroke-width="0.6"/>
<circle cx="469.9" cy="484.6" r="2.8" fill="#9B6BD0"/>
<circle cx="461" cy="497.6" r="3" fill="#fff" stroke="#888" stroke-width="0.6"/>
<text x="422.70" y="514.50" font-size="11" text-anchor="start" textLength="62" lengthAdjust="spacingAndGlyphs">YSZ substrate</text>
<text x="483.3" y="475.6" font-size="11" textLength="30" lengthAdjust="spacingAndGlyphs">TbInO<tspan font-size="8" dy="2.5">3</tspan></text>
<polygon points="474,448.6 484.5,446.6 484.5,444.3 510.6,434 519.4,438.4 494.1,448.9 494.1,450.2 479,452.6" fill="#F9CF88"/>
<line x1="479" y1="450.3" x2="515" y2="436.2" stroke="#FFF3DD" stroke-width="0.6" stroke-dasharray="1,1"/>
<ellipse cx="469.8" cy="454.9" rx="14.7" ry="6.75" fill="#F9CF88"/>
<ellipse cx="470" cy="454.6" rx="8.6" ry="3.8" fill="#fff"/>
<line x1="473" y1="454" x2="521.2" y2="453.8" stroke="#969696" stroke-width="2"/>
<ellipse cx="468.3" cy="454.5" rx="4.4" ry="1.9" fill="#fff" stroke="#8E8E8E" stroke-width="1.7"/>
</g>
<text x="0.30" y="14.60" font-size="20" text-anchor="start" font-weight="bold">a</text>
<text x="345.50" y="14.80" font-size="20" text-anchor="start" font-weight="bold">b</text>
<text x="0.30" y="297.80" font-size="20" text-anchor="start" font-weight="bold">c</text>
<text x="345.50" y="298.00" font-size="20" text-anchor="start" font-weight="bold">d</text>
</svg></body></html>
